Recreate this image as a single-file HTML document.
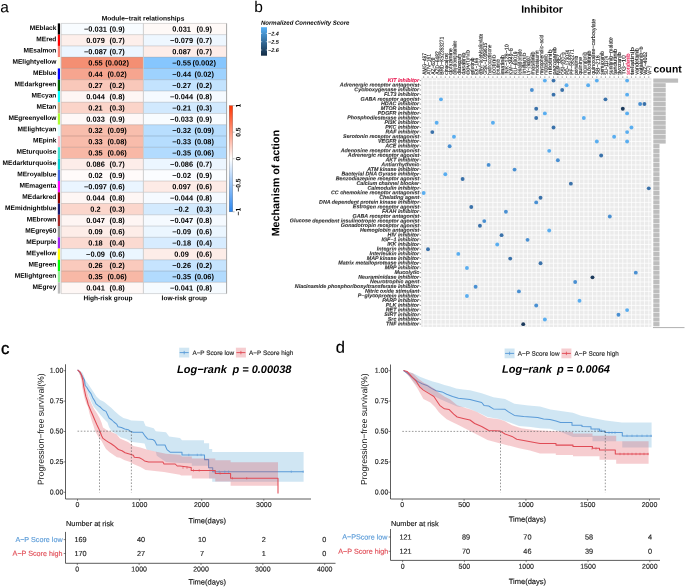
<!DOCTYPE html>
<html><head><meta charset="utf-8"><title>Figure</title>
<style>
html,body{margin:0;padding:0;background:#fff;}
body{width:685px;height:587px;overflow:hidden;}
svg{display:block;font-family:"Liberation Sans", sans-serif;will-change:transform;text-rendering:geometricPrecision;filter:blur(0.3px);}
</style></head>
<body>
<svg width="685" height="587" viewBox="0 0 685 587">
<rect width="685" height="587" fill="#fff"/>
<text transform="translate(0.30 12.20) rotate(0.05)" font-size="15.5" text-anchor="start" font-weight="normal" font-style="normal" fill="#000" >a</text>
<text transform="translate(143.00 20.60) rotate(0.05)" font-size="6.64" text-anchor="middle" font-weight="bold" font-style="normal" fill="#000" >Module−trait relationships</text>
<rect x="61.0" y="23.40" width="82.40" height="11.26" fill="#f8fcff"/>
<rect x="143.4" y="23.40" width="83.20" height="11.26" fill="#fef9f7"/>
<rect x="57.8" y="23.40" width="2.2" height="11.26" fill="#000000"/>
<text transform="translate(56.40 30.03) rotate(0.05)" font-size="6.6" text-anchor="end" font-weight="bold" font-style="normal" fill="#000" >MEblack</text>
<text transform="translate(95.50 31.63) rotate(0.05)" font-size="7.45" text-anchor="middle" font-weight="bold" font-style="normal" fill="#000" >−0.031</text>
<text transform="translate(117.10 31.63) rotate(0.05)" font-size="7.45" text-anchor="middle" font-weight="bold" font-style="normal" fill="#000" >(0.9)</text>
<text transform="translate(181.60 31.63) rotate(0.05)" font-size="7.45" text-anchor="middle" font-weight="bold" font-style="normal" fill="#000" >0.031</text>
<text transform="translate(204.20 31.63) rotate(0.05)" font-size="7.45" text-anchor="middle" font-weight="bold" font-style="normal" fill="#000" >(0.9)</text>
<rect x="61.0" y="34.66" width="82.40" height="11.26" fill="#fdefeb"/>
<rect x="143.4" y="34.66" width="83.20" height="11.26" fill="#eef7ff"/>
<rect x="57.8" y="34.66" width="2.2" height="11.26" fill="#FF0000"/>
<text transform="translate(56.40 41.29) rotate(0.05)" font-size="6.6" text-anchor="end" font-weight="bold" font-style="normal" fill="#000" >MEred</text>
<text transform="translate(95.50 42.89) rotate(0.05)" font-size="7.45" text-anchor="middle" font-weight="bold" font-style="normal" fill="#000" >0.079</text>
<text transform="translate(117.10 42.89) rotate(0.05)" font-size="7.45" text-anchor="middle" font-weight="bold" font-style="normal" fill="#000" >(0.7)</text>
<text transform="translate(181.60 42.89) rotate(0.05)" font-size="7.45" text-anchor="middle" font-weight="bold" font-style="normal" fill="#000" >−0.079</text>
<text transform="translate(204.20 42.89) rotate(0.05)" font-size="7.45" text-anchor="middle" font-weight="bold" font-style="normal" fill="#000" >(0.7)</text>
<rect x="61.0" y="45.92" width="82.40" height="11.26" fill="#ecf6ff"/>
<rect x="143.4" y="45.92" width="83.20" height="11.26" fill="#fdede9"/>
<rect x="57.8" y="45.92" width="2.2" height="11.26" fill="#FA8072"/>
<text transform="translate(56.40 52.55) rotate(0.05)" font-size="6.6" text-anchor="end" font-weight="bold" font-style="normal" fill="#000" >MEsalmon</text>
<text transform="translate(95.50 54.15) rotate(0.05)" font-size="7.45" text-anchor="middle" font-weight="bold" font-style="normal" fill="#000" >−0.087</text>
<text transform="translate(117.10 54.15) rotate(0.05)" font-size="7.45" text-anchor="middle" font-weight="bold" font-style="normal" fill="#000" >(0.7)</text>
<text transform="translate(181.60 54.15) rotate(0.05)" font-size="7.45" text-anchor="middle" font-weight="bold" font-style="normal" fill="#000" >0.087</text>
<text transform="translate(204.20 54.15) rotate(0.05)" font-size="7.45" text-anchor="middle" font-weight="bold" font-style="normal" fill="#000" >(0.7)</text>
<rect x="61.0" y="57.18" width="82.40" height="11.26" fill="#f48f73"/>
<rect x="143.4" y="57.18" width="83.20" height="11.26" fill="#86c6fe"/>
<rect x="57.8" y="57.18" width="2.2" height="11.26" fill="#FFFFE0"/>
<text transform="translate(56.40 63.80) rotate(0.05)" font-size="6.6" text-anchor="end" font-weight="bold" font-style="normal" fill="#000" >MElightyellow</text>
<text transform="translate(95.50 65.40) rotate(0.05)" font-size="7.45" text-anchor="middle" font-weight="bold" font-style="normal" fill="#000" >0.55</text>
<text transform="translate(117.10 65.40) rotate(0.05)" font-size="7.45" text-anchor="middle" font-weight="bold" font-style="normal" fill="#000" >(0.002)</text>
<text transform="translate(181.60 65.40) rotate(0.05)" font-size="7.45" text-anchor="middle" font-weight="bold" font-style="normal" fill="#000" >−0.55</text>
<text transform="translate(204.20 65.40) rotate(0.05)" font-size="7.45" text-anchor="middle" font-weight="bold" font-style="normal" fill="#000" >(0.002)</text>
<rect x="61.0" y="68.43" width="82.40" height="11.26" fill="#f6a58f"/>
<rect x="143.4" y="68.43" width="83.20" height="11.26" fill="#9ed2fe"/>
<rect x="57.8" y="68.43" width="2.2" height="11.26" fill="#0000FF"/>
<text transform="translate(56.40 75.06) rotate(0.05)" font-size="6.6" text-anchor="end" font-weight="bold" font-style="normal" fill="#000" >MEblue</text>
<text transform="translate(95.50 76.66) rotate(0.05)" font-size="7.45" text-anchor="middle" font-weight="bold" font-style="normal" fill="#000" >0.44</text>
<text transform="translate(117.10 76.66) rotate(0.05)" font-size="7.45" text-anchor="middle" font-weight="bold" font-style="normal" fill="#000" >(0.02)</text>
<text transform="translate(181.60 76.66) rotate(0.05)" font-size="7.45" text-anchor="middle" font-weight="bold" font-style="normal" fill="#000" >−0.44</text>
<text transform="translate(204.20 76.66) rotate(0.05)" font-size="7.45" text-anchor="middle" font-weight="bold" font-style="normal" fill="#000" >(0.02)</text>
<rect x="61.0" y="79.69" width="82.40" height="11.26" fill="#f9c8ba"/>
<rect x="143.4" y="79.69" width="83.20" height="11.26" fill="#c3e3fe"/>
<rect x="57.8" y="79.69" width="2.2" height="11.26" fill="#006400"/>
<text transform="translate(56.40 86.32) rotate(0.05)" font-size="6.6" text-anchor="end" font-weight="bold" font-style="normal" fill="#000" >MEdarkgreen</text>
<text transform="translate(95.50 87.92) rotate(0.05)" font-size="7.45" text-anchor="middle" font-weight="bold" font-style="normal" fill="#000" >0.27</text>
<text transform="translate(117.10 87.92) rotate(0.05)" font-size="7.45" text-anchor="middle" font-weight="bold" font-style="normal" fill="#000" >(0.2)</text>
<text transform="translate(181.60 87.92) rotate(0.05)" font-size="7.45" text-anchor="middle" font-weight="bold" font-style="normal" fill="#000" >−0.27</text>
<text transform="translate(204.20 87.92) rotate(0.05)" font-size="7.45" text-anchor="middle" font-weight="bold" font-style="normal" fill="#000" >(0.2)</text>
<rect x="61.0" y="90.95" width="82.40" height="11.26" fill="#fef6f4"/>
<rect x="143.4" y="90.95" width="83.20" height="11.26" fill="#f5faff"/>
<rect x="57.8" y="90.95" width="2.2" height="11.26" fill="#00FFFF"/>
<text transform="translate(56.40 97.58) rotate(0.05)" font-size="6.6" text-anchor="end" font-weight="bold" font-style="normal" fill="#000" >MEcyan</text>
<text transform="translate(95.50 99.18) rotate(0.05)" font-size="7.45" text-anchor="middle" font-weight="bold" font-style="normal" fill="#000" >0.044</text>
<text transform="translate(117.10 99.18) rotate(0.05)" font-size="7.45" text-anchor="middle" font-weight="bold" font-style="normal" fill="#000" >(0.8)</text>
<text transform="translate(181.60 99.18) rotate(0.05)" font-size="7.45" text-anchor="middle" font-weight="bold" font-style="normal" fill="#000" >−0.044</text>
<text transform="translate(204.20 99.18) rotate(0.05)" font-size="7.45" text-anchor="middle" font-weight="bold" font-style="normal" fill="#000" >(0.8)</text>
<rect x="61.0" y="102.21" width="82.40" height="11.26" fill="#fbd4c9"/>
<rect x="143.4" y="102.21" width="83.20" height="11.26" fill="#d1e9fe"/>
<rect x="57.8" y="102.21" width="2.2" height="11.26" fill="#D2B48C"/>
<text transform="translate(56.40 108.84) rotate(0.05)" font-size="6.6" text-anchor="end" font-weight="bold" font-style="normal" fill="#000" >MEtan</text>
<text transform="translate(95.50 110.44) rotate(0.05)" font-size="7.45" text-anchor="middle" font-weight="bold" font-style="normal" fill="#000" >0.21</text>
<text transform="translate(117.10 110.44) rotate(0.05)" font-size="7.45" text-anchor="middle" font-weight="bold" font-style="normal" fill="#000" >(0.3)</text>
<text transform="translate(181.60 110.44) rotate(0.05)" font-size="7.45" text-anchor="middle" font-weight="bold" font-style="normal" fill="#000" >−0.21</text>
<text transform="translate(204.20 110.44) rotate(0.05)" font-size="7.45" text-anchor="middle" font-weight="bold" font-style="normal" fill="#000" >(0.3)</text>
<rect x="61.0" y="113.47" width="82.40" height="11.26" fill="#fef8f7"/>
<rect x="143.4" y="113.47" width="83.20" height="11.26" fill="#f8fcff"/>
<rect x="57.8" y="113.47" width="2.2" height="11.26" fill="#ADFF2F"/>
<text transform="translate(56.40 120.10) rotate(0.05)" font-size="6.6" text-anchor="end" font-weight="bold" font-style="normal" fill="#000" >MEgreenyellow</text>
<text transform="translate(95.50 121.70) rotate(0.05)" font-size="7.45" text-anchor="middle" font-weight="bold" font-style="normal" fill="#000" >0.033</text>
<text transform="translate(117.10 121.70) rotate(0.05)" font-size="7.45" text-anchor="middle" font-weight="bold" font-style="normal" fill="#000" >(0.9)</text>
<text transform="translate(181.60 121.70) rotate(0.05)" font-size="7.45" text-anchor="middle" font-weight="bold" font-style="normal" fill="#000" >−0.033</text>
<text transform="translate(204.20 121.70) rotate(0.05)" font-size="7.45" text-anchor="middle" font-weight="bold" font-style="normal" fill="#000" >(0.9)</text>
<rect x="61.0" y="124.73" width="82.40" height="11.26" fill="#f8bead"/>
<rect x="143.4" y="124.73" width="83.20" height="11.26" fill="#b8defe"/>
<rect x="57.8" y="124.73" width="2.2" height="11.26" fill="#E0FFFF"/>
<text transform="translate(56.40 131.35) rotate(0.05)" font-size="6.6" text-anchor="end" font-weight="bold" font-style="normal" fill="#000" >MElightcyan</text>
<text transform="translate(95.50 132.95) rotate(0.05)" font-size="7.45" text-anchor="middle" font-weight="bold" font-style="normal" fill="#000" >0.32</text>
<text transform="translate(117.10 132.95) rotate(0.05)" font-size="7.45" text-anchor="middle" font-weight="bold" font-style="normal" fill="#000" >(0.09)</text>
<text transform="translate(181.60 132.95) rotate(0.05)" font-size="7.45" text-anchor="middle" font-weight="bold" font-style="normal" fill="#000" >−0.32</text>
<text transform="translate(204.20 132.95) rotate(0.05)" font-size="7.45" text-anchor="middle" font-weight="bold" font-style="normal" fill="#000" >(0.09)</text>
<rect x="61.0" y="135.98" width="82.40" height="11.26" fill="#f8bcab"/>
<rect x="143.4" y="135.98" width="83.20" height="11.26" fill="#b6ddfe"/>
<rect x="57.8" y="135.98" width="2.2" height="11.26" fill="#FFC0CB"/>
<text transform="translate(56.40 142.61) rotate(0.05)" font-size="6.6" text-anchor="end" font-weight="bold" font-style="normal" fill="#000" >MEpink</text>
<text transform="translate(95.50 144.21) rotate(0.05)" font-size="7.45" text-anchor="middle" font-weight="bold" font-style="normal" fill="#000" >0.33</text>
<text transform="translate(117.10 144.21) rotate(0.05)" font-size="7.45" text-anchor="middle" font-weight="bold" font-style="normal" fill="#000" >(0.08)</text>
<text transform="translate(181.60 144.21) rotate(0.05)" font-size="7.45" text-anchor="middle" font-weight="bold" font-style="normal" fill="#000" >−0.33</text>
<text transform="translate(204.20 144.21) rotate(0.05)" font-size="7.45" text-anchor="middle" font-weight="bold" font-style="normal" fill="#000" >(0.08)</text>
<rect x="61.0" y="147.24" width="82.40" height="11.26" fill="#f8b8a6"/>
<rect x="143.4" y="147.24" width="83.20" height="11.26" fill="#b2dbfe"/>
<rect x="57.8" y="147.24" width="2.2" height="11.26" fill="#40E0D0"/>
<text transform="translate(56.40 153.87) rotate(0.05)" font-size="6.6" text-anchor="end" font-weight="bold" font-style="normal" fill="#000" >MEturquoise</text>
<text transform="translate(95.50 155.47) rotate(0.05)" font-size="7.45" text-anchor="middle" font-weight="bold" font-style="normal" fill="#000" >0.35</text>
<text transform="translate(117.10 155.47) rotate(0.05)" font-size="7.45" text-anchor="middle" font-weight="bold" font-style="normal" fill="#000" >(0.06)</text>
<text transform="translate(181.60 155.47) rotate(0.05)" font-size="7.45" text-anchor="middle" font-weight="bold" font-style="normal" fill="#000" >−0.35</text>
<text transform="translate(204.20 155.47) rotate(0.05)" font-size="7.45" text-anchor="middle" font-weight="bold" font-style="normal" fill="#000" >(0.06)</text>
<rect x="61.0" y="158.50" width="82.40" height="11.26" fill="#fdede9"/>
<rect x="143.4" y="158.50" width="83.20" height="11.26" fill="#ecf6ff"/>
<rect x="57.8" y="158.50" width="2.2" height="11.26" fill="#00CED1"/>
<text transform="translate(56.40 165.13) rotate(0.05)" font-size="6.6" text-anchor="end" font-weight="bold" font-style="normal" fill="#000" >MEdarkturquoise</text>
<text transform="translate(95.50 166.73) rotate(0.05)" font-size="7.45" text-anchor="middle" font-weight="bold" font-style="normal" fill="#000" >0.086</text>
<text transform="translate(117.10 166.73) rotate(0.05)" font-size="7.45" text-anchor="middle" font-weight="bold" font-style="normal" fill="#000" >(0.7)</text>
<text transform="translate(181.60 166.73) rotate(0.05)" font-size="7.45" text-anchor="middle" font-weight="bold" font-style="normal" fill="#000" >−0.086</text>
<text transform="translate(204.20 166.73) rotate(0.05)" font-size="7.45" text-anchor="middle" font-weight="bold" font-style="normal" fill="#000" >(0.7)</text>
<rect x="61.0" y="169.76" width="82.40" height="11.26" fill="#fffbfa"/>
<rect x="143.4" y="169.76" width="83.20" height="11.26" fill="#fbfdff"/>
<rect x="57.8" y="169.76" width="2.2" height="11.26" fill="#4169E1"/>
<text transform="translate(56.40 176.39) rotate(0.05)" font-size="6.6" text-anchor="end" font-weight="bold" font-style="normal" fill="#000" >MEroyalblue</text>
<text transform="translate(95.50 177.99) rotate(0.05)" font-size="7.45" text-anchor="middle" font-weight="bold" font-style="normal" fill="#000" >0.02</text>
<text transform="translate(117.10 177.99) rotate(0.05)" font-size="7.45" text-anchor="middle" font-weight="bold" font-style="normal" fill="#000" >(0.9)</text>
<text transform="translate(181.60 177.99) rotate(0.05)" font-size="7.45" text-anchor="middle" font-weight="bold" font-style="normal" fill="#000" >−0.02</text>
<text transform="translate(204.20 177.99) rotate(0.05)" font-size="7.45" text-anchor="middle" font-weight="bold" font-style="normal" fill="#000" >(0.9)</text>
<rect x="61.0" y="181.02" width="82.40" height="11.26" fill="#eaf5ff"/>
<rect x="143.4" y="181.02" width="83.20" height="11.26" fill="#fdebe6"/>
<rect x="57.8" y="181.02" width="2.2" height="11.26" fill="#FF00FF"/>
<text transform="translate(56.40 187.65) rotate(0.05)" font-size="6.6" text-anchor="end" font-weight="bold" font-style="normal" fill="#000" >MEmagenta</text>
<text transform="translate(95.50 189.25) rotate(0.05)" font-size="7.45" text-anchor="middle" font-weight="bold" font-style="normal" fill="#000" >−0.097</text>
<text transform="translate(117.10 189.25) rotate(0.05)" font-size="7.45" text-anchor="middle" font-weight="bold" font-style="normal" fill="#000" >(0.6)</text>
<text transform="translate(181.60 189.25) rotate(0.05)" font-size="7.45" text-anchor="middle" font-weight="bold" font-style="normal" fill="#000" >0.097</text>
<text transform="translate(204.20 189.25) rotate(0.05)" font-size="7.45" text-anchor="middle" font-weight="bold" font-style="normal" fill="#000" >(0.6)</text>
<rect x="61.0" y="192.28" width="82.40" height="11.26" fill="#fef6f4"/>
<rect x="143.4" y="192.28" width="83.20" height="11.26" fill="#f5faff"/>
<rect x="57.8" y="192.28" width="2.2" height="11.26" fill="#8B0000"/>
<text transform="translate(56.40 198.90) rotate(0.05)" font-size="6.6" text-anchor="end" font-weight="bold" font-style="normal" fill="#000" >MEdarkred</text>
<text transform="translate(95.50 200.50) rotate(0.05)" font-size="7.45" text-anchor="middle" font-weight="bold" font-style="normal" fill="#000" >0.044</text>
<text transform="translate(117.10 200.50) rotate(0.05)" font-size="7.45" text-anchor="middle" font-weight="bold" font-style="normal" fill="#000" >(0.8)</text>
<text transform="translate(181.60 200.50) rotate(0.05)" font-size="7.45" text-anchor="middle" font-weight="bold" font-style="normal" fill="#000" >−0.044</text>
<text transform="translate(204.20 200.50) rotate(0.05)" font-size="7.45" text-anchor="middle" font-weight="bold" font-style="normal" fill="#000" >(0.8)</text>
<rect x="61.0" y="203.53" width="82.40" height="11.26" fill="#fbd6cc"/>
<rect x="143.4" y="203.53" width="83.20" height="11.26" fill="#d3eafe"/>
<rect x="57.8" y="203.53" width="2.2" height="11.26" fill="#191970"/>
<text transform="translate(56.40 210.16) rotate(0.05)" font-size="6.6" text-anchor="end" font-weight="bold" font-style="normal" fill="#000" >MEmidnightblue</text>
<text transform="translate(95.50 211.76) rotate(0.05)" font-size="7.45" text-anchor="middle" font-weight="bold" font-style="normal" fill="#000" >0.2</text>
<text transform="translate(117.10 211.76) rotate(0.05)" font-size="7.45" text-anchor="middle" font-weight="bold" font-style="normal" fill="#000" >(0.3)</text>
<text transform="translate(181.60 211.76) rotate(0.05)" font-size="7.45" text-anchor="middle" font-weight="bold" font-style="normal" fill="#000" >−0.2</text>
<text transform="translate(204.20 211.76) rotate(0.05)" font-size="7.45" text-anchor="middle" font-weight="bold" font-style="normal" fill="#000" >(0.3)</text>
<rect x="61.0" y="214.79" width="82.40" height="11.26" fill="#fef5f3"/>
<rect x="143.4" y="214.79" width="83.20" height="11.26" fill="#f5faff"/>
<rect x="57.8" y="214.79" width="2.2" height="11.26" fill="#A52A2A"/>
<text transform="translate(56.40 221.42) rotate(0.05)" font-size="6.6" text-anchor="end" font-weight="bold" font-style="normal" fill="#000" >MEbrown</text>
<text transform="translate(95.50 223.02) rotate(0.05)" font-size="7.45" text-anchor="middle" font-weight="bold" font-style="normal" fill="#000" >0.047</text>
<text transform="translate(117.10 223.02) rotate(0.05)" font-size="7.45" text-anchor="middle" font-weight="bold" font-style="normal" fill="#000" >(0.8)</text>
<text transform="translate(181.60 223.02) rotate(0.05)" font-size="7.45" text-anchor="middle" font-weight="bold" font-style="normal" fill="#000" >−0.047</text>
<text transform="translate(204.20 223.02) rotate(0.05)" font-size="7.45" text-anchor="middle" font-weight="bold" font-style="normal" fill="#000" >(0.8)</text>
<rect x="61.0" y="226.05" width="82.40" height="11.26" fill="#fdede8"/>
<rect x="143.4" y="226.05" width="83.20" height="11.26" fill="#ebf6ff"/>
<rect x="57.8" y="226.05" width="2.2" height="11.26" fill="#999999"/>
<text transform="translate(56.40 232.68) rotate(0.05)" font-size="6.6" text-anchor="end" font-weight="bold" font-style="normal" fill="#000" >MEgrey60</text>
<text transform="translate(95.50 234.28) rotate(0.05)" font-size="7.45" text-anchor="middle" font-weight="bold" font-style="normal" fill="#000" >0.09</text>
<text transform="translate(117.10 234.28) rotate(0.05)" font-size="7.45" text-anchor="middle" font-weight="bold" font-style="normal" fill="#000" >(0.6)</text>
<text transform="translate(181.60 234.28) rotate(0.05)" font-size="7.45" text-anchor="middle" font-weight="bold" font-style="normal" fill="#000" >−0.09</text>
<text transform="translate(204.20 234.28) rotate(0.05)" font-size="7.45" text-anchor="middle" font-weight="bold" font-style="normal" fill="#000" >(0.6)</text>
<rect x="61.0" y="237.31" width="82.40" height="11.26" fill="#fbdad1"/>
<rect x="143.4" y="237.31" width="83.20" height="11.26" fill="#d7ecff"/>
<rect x="57.8" y="237.31" width="2.2" height="11.26" fill="#A020F0"/>
<text transform="translate(56.40 243.94) rotate(0.05)" font-size="6.6" text-anchor="end" font-weight="bold" font-style="normal" fill="#000" >MEpurple</text>
<text transform="translate(95.50 245.54) rotate(0.05)" font-size="7.45" text-anchor="middle" font-weight="bold" font-style="normal" fill="#000" >0.18</text>
<text transform="translate(117.10 245.54) rotate(0.05)" font-size="7.45" text-anchor="middle" font-weight="bold" font-style="normal" fill="#000" >(0.4)</text>
<text transform="translate(181.60 245.54) rotate(0.05)" font-size="7.45" text-anchor="middle" font-weight="bold" font-style="normal" fill="#000" >−0.18</text>
<text transform="translate(204.20 245.54) rotate(0.05)" font-size="7.45" text-anchor="middle" font-weight="bold" font-style="normal" fill="#000" >(0.4)</text>
<rect x="61.0" y="248.57" width="82.40" height="11.26" fill="#ebf6ff"/>
<rect x="143.4" y="248.57" width="83.20" height="11.26" fill="#fdede8"/>
<rect x="57.8" y="248.57" width="2.2" height="11.26" fill="#FFFF00"/>
<text transform="translate(56.40 255.20) rotate(0.05)" font-size="6.6" text-anchor="end" font-weight="bold" font-style="normal" fill="#000" >MEyellow</text>
<text transform="translate(95.50 256.80) rotate(0.05)" font-size="7.45" text-anchor="middle" font-weight="bold" font-style="normal" fill="#000" >−0.09</text>
<text transform="translate(117.10 256.80) rotate(0.05)" font-size="7.45" text-anchor="middle" font-weight="bold" font-style="normal" fill="#000" >(0.6)</text>
<text transform="translate(181.60 256.80) rotate(0.05)" font-size="7.45" text-anchor="middle" font-weight="bold" font-style="normal" fill="#000" >0.09</text>
<text transform="translate(204.20 256.80) rotate(0.05)" font-size="7.45" text-anchor="middle" font-weight="bold" font-style="normal" fill="#000" >(0.6)</text>
<rect x="61.0" y="259.83" width="82.40" height="11.26" fill="#facabd"/>
<rect x="143.4" y="259.83" width="83.20" height="11.26" fill="#c6e4fe"/>
<rect x="57.8" y="259.83" width="2.2" height="11.26" fill="#00FF00"/>
<text transform="translate(56.40 266.45) rotate(0.05)" font-size="6.6" text-anchor="end" font-weight="bold" font-style="normal" fill="#000" >MEgreen</text>
<text transform="translate(95.50 268.05) rotate(0.05)" font-size="7.45" text-anchor="middle" font-weight="bold" font-style="normal" fill="#000" >0.26</text>
<text transform="translate(117.10 268.05) rotate(0.05)" font-size="7.45" text-anchor="middle" font-weight="bold" font-style="normal" fill="#000" >(0.2)</text>
<text transform="translate(181.60 268.05) rotate(0.05)" font-size="7.45" text-anchor="middle" font-weight="bold" font-style="normal" fill="#000" >−0.26</text>
<text transform="translate(204.20 268.05) rotate(0.05)" font-size="7.45" text-anchor="middle" font-weight="bold" font-style="normal" fill="#000" >(0.2)</text>
<rect x="61.0" y="271.08" width="82.40" height="11.26" fill="#f8b8a6"/>
<rect x="143.4" y="271.08" width="83.20" height="11.26" fill="#b2dbfe"/>
<rect x="57.8" y="271.08" width="2.2" height="11.26" fill="#90EE90"/>
<text transform="translate(56.40 277.71) rotate(0.05)" font-size="6.6" text-anchor="end" font-weight="bold" font-style="normal" fill="#000" >MElightgreen</text>
<text transform="translate(95.50 279.31) rotate(0.05)" font-size="7.45" text-anchor="middle" font-weight="bold" font-style="normal" fill="#000" >0.35</text>
<text transform="translate(117.10 279.31) rotate(0.05)" font-size="7.45" text-anchor="middle" font-weight="bold" font-style="normal" fill="#000" >(0.06)</text>
<text transform="translate(181.60 279.31) rotate(0.05)" font-size="7.45" text-anchor="middle" font-weight="bold" font-style="normal" fill="#000" >−0.35</text>
<text transform="translate(204.20 279.31) rotate(0.05)" font-size="7.45" text-anchor="middle" font-weight="bold" font-style="normal" fill="#000" >(0.06)</text>
<rect x="61.0" y="282.34" width="82.40" height="11.26" fill="#fef7f5"/>
<rect x="143.4" y="282.34" width="83.20" height="11.26" fill="#f6fbff"/>
<rect x="57.8" y="282.34" width="2.2" height="11.26" fill="#BEBEBE"/>
<text transform="translate(56.40 288.97) rotate(0.05)" font-size="6.6" text-anchor="end" font-weight="bold" font-style="normal" fill="#000" >MEgrey</text>
<text transform="translate(95.50 290.57) rotate(0.05)" font-size="7.45" text-anchor="middle" font-weight="bold" font-style="normal" fill="#000" >0.041</text>
<text transform="translate(117.10 290.57) rotate(0.05)" font-size="7.45" text-anchor="middle" font-weight="bold" font-style="normal" fill="#000" >(0.8)</text>
<text transform="translate(181.60 290.57) rotate(0.05)" font-size="7.45" text-anchor="middle" font-weight="bold" font-style="normal" fill="#000" >−0.041</text>
<text transform="translate(204.20 290.57) rotate(0.05)" font-size="7.45" text-anchor="middle" font-weight="bold" font-style="normal" fill="#000" >(0.8)</text>
<line x1="61.0" y1="23.40" x2="226.6" y2="23.40" stroke="#000" stroke-opacity="0.16" stroke-width="0.9"/>
<line x1="61.0" y1="34.66" x2="226.6" y2="34.66" stroke="#000" stroke-opacity="0.16" stroke-width="0.9"/>
<line x1="61.0" y1="45.92" x2="226.6" y2="45.92" stroke="#000" stroke-opacity="0.16" stroke-width="0.9"/>
<line x1="61.0" y1="57.18" x2="226.6" y2="57.18" stroke="#000" stroke-opacity="0.16" stroke-width="0.9"/>
<line x1="61.0" y1="68.43" x2="226.6" y2="68.43" stroke="#000" stroke-opacity="0.16" stroke-width="0.9"/>
<line x1="61.0" y1="79.69" x2="226.6" y2="79.69" stroke="#000" stroke-opacity="0.16" stroke-width="0.9"/>
<line x1="61.0" y1="90.95" x2="226.6" y2="90.95" stroke="#000" stroke-opacity="0.16" stroke-width="0.9"/>
<line x1="61.0" y1="102.21" x2="226.6" y2="102.21" stroke="#000" stroke-opacity="0.16" stroke-width="0.9"/>
<line x1="61.0" y1="113.47" x2="226.6" y2="113.47" stroke="#000" stroke-opacity="0.16" stroke-width="0.9"/>
<line x1="61.0" y1="124.73" x2="226.6" y2="124.73" stroke="#000" stroke-opacity="0.16" stroke-width="0.9"/>
<line x1="61.0" y1="135.98" x2="226.6" y2="135.98" stroke="#000" stroke-opacity="0.16" stroke-width="0.9"/>
<line x1="61.0" y1="147.24" x2="226.6" y2="147.24" stroke="#000" stroke-opacity="0.16" stroke-width="0.9"/>
<line x1="61.0" y1="158.50" x2="226.6" y2="158.50" stroke="#000" stroke-opacity="0.16" stroke-width="0.9"/>
<line x1="61.0" y1="169.76" x2="226.6" y2="169.76" stroke="#000" stroke-opacity="0.16" stroke-width="0.9"/>
<line x1="61.0" y1="181.02" x2="226.6" y2="181.02" stroke="#000" stroke-opacity="0.16" stroke-width="0.9"/>
<line x1="61.0" y1="192.28" x2="226.6" y2="192.28" stroke="#000" stroke-opacity="0.16" stroke-width="0.9"/>
<line x1="61.0" y1="203.53" x2="226.6" y2="203.53" stroke="#000" stroke-opacity="0.16" stroke-width="0.9"/>
<line x1="61.0" y1="214.79" x2="226.6" y2="214.79" stroke="#000" stroke-opacity="0.16" stroke-width="0.9"/>
<line x1="61.0" y1="226.05" x2="226.6" y2="226.05" stroke="#000" stroke-opacity="0.16" stroke-width="0.9"/>
<line x1="61.0" y1="237.31" x2="226.6" y2="237.31" stroke="#000" stroke-opacity="0.16" stroke-width="0.9"/>
<line x1="61.0" y1="248.57" x2="226.6" y2="248.57" stroke="#000" stroke-opacity="0.16" stroke-width="0.9"/>
<line x1="61.0" y1="259.83" x2="226.6" y2="259.83" stroke="#000" stroke-opacity="0.16" stroke-width="0.9"/>
<line x1="61.0" y1="271.08" x2="226.6" y2="271.08" stroke="#000" stroke-opacity="0.16" stroke-width="0.9"/>
<line x1="61.0" y1="282.34" x2="226.6" y2="282.34" stroke="#000" stroke-opacity="0.16" stroke-width="0.9"/>
<line x1="61.0" y1="293.60" x2="226.6" y2="293.60" stroke="#000" stroke-opacity="0.16" stroke-width="0.9"/>
<line x1="61.0" y1="23.4" x2="61.0" y2="293.6" stroke="#c4c4c4" stroke-width="0.9"/>
<line x1="143.4" y1="23.4" x2="143.4" y2="293.6" stroke="#c8c8c8" stroke-width="0.9"/>
<line x1="226.6" y1="23.4" x2="226.6" y2="293.6" stroke="#9a9a9a" stroke-width="0.9"/>
<text transform="translate(108.00 300.20) rotate(0.05)" font-size="6.6" text-anchor="middle" font-weight="bold" font-style="normal" fill="#000" >High-risk group</text>
<text transform="translate(184.30 300.20) rotate(0.05)" font-size="6.6" text-anchor="middle" font-weight="bold" font-style="normal" fill="#000" >low-risk group</text>
<defs><linearGradient id="gbwr" x1="0" y1="1" x2="0" y2="0"><stop offset="0" stop-color="#2a86f0"/><stop offset="0.5" stop-color="#ffffff"/><stop offset="1" stop-color="#ff3300"/></linearGradient></defs>
<rect x="229.2" y="105.6" width="3.5" height="106.2" fill="url(#gbwr)" stroke="#000" stroke-opacity="0.35" stroke-width="0.5"/>
<line x1="232.7" y1="105.60" x2="234.6" y2="105.60" stroke="#777" stroke-width="0.5"/>
<text transform="translate(240.6 105.60) rotate(-89.95)" font-size="6.7" text-anchor="middle" font-weight="bold" fill="#000">1</text>
<line x1="232.7" y1="132.15" x2="234.6" y2="132.15" stroke="#777" stroke-width="0.5"/>
<text transform="translate(240.6 132.10) rotate(-89.95)" font-size="6.7" text-anchor="middle" font-weight="bold" fill="#000">0.5</text>
<line x1="232.7" y1="158.70" x2="234.6" y2="158.70" stroke="#777" stroke-width="0.5"/>
<text transform="translate(240.6 158.60) rotate(-89.95)" font-size="6.7" text-anchor="middle" font-weight="bold" fill="#000">0</text>
<line x1="232.7" y1="185.25" x2="234.6" y2="185.25" stroke="#777" stroke-width="0.5"/>
<text transform="translate(240.6 185.10) rotate(-89.95)" font-size="6.7" text-anchor="middle" font-weight="bold" fill="#000">−0.5</text>
<line x1="232.7" y1="211.80" x2="234.6" y2="211.80" stroke="#777" stroke-width="0.5"/>
<text transform="translate(240.6 211.60) rotate(-89.95)" font-size="6.7" text-anchor="middle" font-weight="bold" fill="#000">−1</text>
<text transform="translate(254.20 12.00) rotate(0.05)" font-size="15.5" text-anchor="start" font-weight="normal" font-style="normal" fill="#000" >b</text>
<text transform="translate(542.00 12.70) rotate(0.05)" font-size="10.45" text-anchor="middle" font-weight="bold" font-style="normal" fill="#000" >Inhibitor</text>
<text transform="translate(261.00 24.80) rotate(0.05)" font-size="6.0" text-anchor="start" font-weight="bold" font-style="italic" fill="#000" >Normalized Connectivity Score</text>
<defs><linearGradient id="gncs" x1="0" y1="0" x2="0" y2="1"><stop offset="0" stop-color="#56B1F7"/><stop offset="1" stop-color="#132B43"/></linearGradient></defs>
<rect x="261" y="27.2" width="6" height="28.5" fill="url(#gncs)"/>
<line x1="261" y1="33.4" x2="262.2" y2="33.4" stroke="#fff" stroke-width="0.5"/>
<line x1="265.8" y1="33.4" x2="267" y2="33.4" stroke="#fff" stroke-width="0.5"/>
<text transform="translate(268.00 35.40) rotate(0.05)" font-size="5.5" text-anchor="start" font-weight="bold" font-style="italic" fill="#000" >−2.4</text>
<line x1="261" y1="41.7" x2="262.2" y2="41.7" stroke="#fff" stroke-width="0.5"/>
<line x1="265.8" y1="41.7" x2="267" y2="41.7" stroke="#fff" stroke-width="0.5"/>
<text transform="translate(268.00 43.70) rotate(0.05)" font-size="5.5" text-anchor="start" font-weight="bold" font-style="italic" fill="#000" >−2.5</text>
<line x1="261" y1="50.0" x2="262.2" y2="50.0" stroke="#fff" stroke-width="0.5"/>
<line x1="265.8" y1="50.0" x2="267" y2="50.0" stroke="#fff" stroke-width="0.5"/>
<text transform="translate(268.00 52.00) rotate(0.05)" font-size="5.5" text-anchor="start" font-weight="bold" font-style="italic" fill="#000" >−2.6</text>
<rect x="421.1" y="77.8" width="230.30" height="249.20" fill="#ebebeb"/>
<path d="M423.66 77.8V327.0M427.99 77.8V327.0M432.32 77.8V327.0M436.65 77.8V327.0M440.98 77.8V327.0M445.31 77.8V327.0M449.63 77.8V327.0M453.96 77.8V327.0M458.29 77.8V327.0M462.62 77.8V327.0M466.95 77.8V327.0M471.28 77.8V327.0M475.61 77.8V327.0M479.94 77.8V327.0M484.27 77.8V327.0M488.60 77.8V327.0M492.92 77.8V327.0M497.25 77.8V327.0M501.58 77.8V327.0M505.91 77.8V327.0M510.24 77.8V327.0M514.57 77.8V327.0M518.90 77.8V327.0M523.23 77.8V327.0M527.56 77.8V327.0M531.88 77.8V327.0M536.21 77.8V327.0M540.54 77.8V327.0M544.87 77.8V327.0M549.20 77.8V327.0M553.53 77.8V327.0M557.86 77.8V327.0M562.19 77.8V327.0M566.52 77.8V327.0M570.85 77.8V327.0M575.17 77.8V327.0M579.50 77.8V327.0M583.83 77.8V327.0M588.16 77.8V327.0M592.49 77.8V327.0M596.82 77.8V327.0M601.15 77.8V327.0M605.48 77.8V327.0M609.81 77.8V327.0M614.14 77.8V327.0M618.47 77.8V327.0M622.79 77.8V327.0M627.12 77.8V327.0M631.45 77.8V327.0M635.78 77.8V327.0M640.11 77.8V327.0M644.44 77.8V327.0M648.77 77.8V327.0M421.1 80.60H651.4M421.1 85.28H651.4M421.1 89.97H651.4M421.1 94.65H651.4M421.1 99.34H651.4M421.1 104.02H651.4M421.1 108.70H651.4M421.1 113.39H651.4M421.1 118.07H651.4M421.1 122.76H651.4M421.1 127.44H651.4M421.1 132.12H651.4M421.1 136.81H651.4M421.1 141.49H651.4M421.1 146.18H651.4M421.1 150.86H651.4M421.1 155.54H651.4M421.1 160.23H651.4M421.1 164.91H651.4M421.1 169.60H651.4M421.1 174.28H651.4M421.1 178.96H651.4M421.1 183.65H651.4M421.1 188.33H651.4M421.1 193.02H651.4M421.1 197.70H651.4M421.1 202.38H651.4M421.1 207.07H651.4M421.1 211.75H651.4M421.1 216.44H651.4M421.1 221.12H651.4M421.1 225.80H651.4M421.1 230.49H651.4M421.1 235.17H651.4M421.1 239.86H651.4M421.1 244.54H651.4M421.1 249.22H651.4M421.1 253.91H651.4M421.1 258.59H651.4M421.1 263.28H651.4M421.1 267.96H651.4M421.1 272.64H651.4M421.1 277.33H651.4M421.1 282.01H651.4M421.1 286.70H651.4M421.1 291.38H651.4M421.1 296.06H651.4M421.1 300.75H651.4M421.1 305.43H651.4M421.1 310.12H651.4M421.1 314.80H651.4M421.1 319.48H651.4M421.1 324.17H651.4" stroke="#ffffff" stroke-width="0.75" fill="none"/>
<text transform="translate(419.20 81.95) rotate(0.05)" font-size="5.33" text-anchor="end" font-weight="bold" font-style="italic" fill="#e8174f" stroke="#e8174f" stroke-width="0.1">KIT inhibitor</text>
<text transform="translate(419.20 86.63) rotate(0.05)" font-size="5.33" text-anchor="end" font-weight="bold" font-style="italic" fill="#333333" stroke="#333333" stroke-width="0.1">Adrenergic receptor antagonist</text>
<text transform="translate(419.20 91.32) rotate(0.05)" font-size="5.33" text-anchor="end" font-weight="bold" font-style="italic" fill="#333333" stroke="#333333" stroke-width="0.1">Cyclooxygenase inhibitor</text>
<text transform="translate(419.20 96.00) rotate(0.05)" font-size="5.33" text-anchor="end" font-weight="bold" font-style="italic" fill="#333333" stroke="#333333" stroke-width="0.1">FLT3 inhibitor</text>
<text transform="translate(419.20 100.69) rotate(0.05)" font-size="5.33" text-anchor="end" font-weight="bold" font-style="italic" fill="#333333" stroke="#333333" stroke-width="0.1">GABA receptor agonist</text>
<text transform="translate(419.20 105.37) rotate(0.05)" font-size="5.33" text-anchor="end" font-weight="bold" font-style="italic" fill="#333333" stroke="#333333" stroke-width="0.1">HDAC inhibitor</text>
<text transform="translate(419.20 110.05) rotate(0.05)" font-size="5.33" text-anchor="end" font-weight="bold" font-style="italic" fill="#333333" stroke="#333333" stroke-width="0.1">MTOR inhibitor</text>
<text transform="translate(419.20 114.74) rotate(0.05)" font-size="5.33" text-anchor="end" font-weight="bold" font-style="italic" fill="#333333" stroke="#333333" stroke-width="0.1">PDGFR inhibitor</text>
<text transform="translate(419.20 119.42) rotate(0.05)" font-size="5.33" text-anchor="end" font-weight="bold" font-style="italic" fill="#333333" stroke="#333333" stroke-width="0.1">Phosphodiesterase inhibitor</text>
<text transform="translate(419.20 124.11) rotate(0.05)" font-size="5.33" text-anchor="end" font-weight="bold" font-style="italic" fill="#333333" stroke="#333333" stroke-width="0.1">PI3K inhibitor</text>
<text transform="translate(419.20 128.79) rotate(0.05)" font-size="5.33" text-anchor="end" font-weight="bold" font-style="italic" fill="#333333" stroke="#333333" stroke-width="0.1">PKC inhibitor</text>
<text transform="translate(419.20 133.47) rotate(0.05)" font-size="5.33" text-anchor="end" font-weight="bold" font-style="italic" fill="#333333" stroke="#333333" stroke-width="0.1">RAF inhibitor</text>
<text transform="translate(419.20 138.16) rotate(0.05)" font-size="5.33" text-anchor="end" font-weight="bold" font-style="italic" fill="#333333" stroke="#333333" stroke-width="0.1">Serotonin receptor antagonist</text>
<text transform="translate(419.20 142.84) rotate(0.05)" font-size="5.33" text-anchor="end" font-weight="bold" font-style="italic" fill="#333333" stroke="#333333" stroke-width="0.1">VEGFR inhibitor</text>
<text transform="translate(419.20 147.53) rotate(0.05)" font-size="5.33" text-anchor="end" font-weight="bold" font-style="italic" fill="#333333" stroke="#333333" stroke-width="0.1">ACE inhibitor</text>
<text transform="translate(419.20 152.21) rotate(0.05)" font-size="5.33" text-anchor="end" font-weight="bold" font-style="italic" fill="#333333" stroke="#333333" stroke-width="0.1">Adenosine receptor antagonist</text>
<text transform="translate(419.20 156.89) rotate(0.05)" font-size="5.33" text-anchor="end" font-weight="bold" font-style="italic" fill="#333333" stroke="#333333" stroke-width="0.1">Adrenergic receptor agonist</text>
<text transform="translate(419.20 161.58) rotate(0.05)" font-size="5.33" text-anchor="end" font-weight="bold" font-style="italic" fill="#333333" stroke="#333333" stroke-width="0.1">AKT inhibitor</text>
<text transform="translate(419.20 166.26) rotate(0.05)" font-size="5.33" text-anchor="end" font-weight="bold" font-style="italic" fill="#333333" stroke="#333333" stroke-width="0.1">Antiarrhythmic</text>
<text transform="translate(419.20 170.95) rotate(0.05)" font-size="5.33" text-anchor="end" font-weight="bold" font-style="italic" fill="#333333" stroke="#333333" stroke-width="0.1">ATM kinase inhibitor</text>
<text transform="translate(419.20 175.63) rotate(0.05)" font-size="5.33" text-anchor="end" font-weight="bold" font-style="italic" fill="#333333" stroke="#333333" stroke-width="0.1">Bacterial DNA Gyrase inhibitor</text>
<text transform="translate(419.20 180.31) rotate(0.05)" font-size="5.33" text-anchor="end" font-weight="bold" font-style="italic" fill="#333333" stroke="#333333" stroke-width="0.1">Benzodiazepine receptor agonist</text>
<text transform="translate(419.20 185.00) rotate(0.05)" font-size="5.33" text-anchor="end" font-weight="bold" font-style="italic" fill="#333333" stroke="#333333" stroke-width="0.1">Calcium channel blocker</text>
<text transform="translate(419.20 189.68) rotate(0.05)" font-size="5.33" text-anchor="end" font-weight="bold" font-style="italic" fill="#333333" stroke="#333333" stroke-width="0.1">Calmodulin inhibitor</text>
<text transform="translate(419.20 194.37) rotate(0.05)" font-size="5.33" text-anchor="end" font-weight="bold" font-style="italic" fill="#333333" stroke="#333333" stroke-width="0.1">CC chemokine receptor antagonist</text>
<text transform="translate(419.20 199.05) rotate(0.05)" font-size="5.33" text-anchor="end" font-weight="bold" font-style="italic" fill="#333333" stroke="#333333" stroke-width="0.1">Chelating agent</text>
<text transform="translate(419.20 203.73) rotate(0.05)" font-size="5.33" text-anchor="end" font-weight="bold" font-style="italic" fill="#333333" stroke="#333333" stroke-width="0.1">DNA dependent protein kinase inhibitor</text>
<text transform="translate(419.20 208.42) rotate(0.05)" font-size="5.33" text-anchor="end" font-weight="bold" font-style="italic" fill="#333333" stroke="#333333" stroke-width="0.1">Estrogen receptor agonist</text>
<text transform="translate(419.20 213.10) rotate(0.05)" font-size="5.33" text-anchor="end" font-weight="bold" font-style="italic" fill="#333333" stroke="#333333" stroke-width="0.1">FAAH inhibitor</text>
<text transform="translate(419.20 217.79) rotate(0.05)" font-size="5.33" text-anchor="end" font-weight="bold" font-style="italic" fill="#333333" stroke="#333333" stroke-width="0.1">GABA receptor antagonist</text>
<text transform="translate(419.20 222.47) rotate(0.05)" font-size="5.33" text-anchor="end" font-weight="bold" font-style="italic" fill="#333333" stroke="#333333" stroke-width="0.1">Glucose dependent insulinotropic receptor agonist</text>
<text transform="translate(419.20 227.15) rotate(0.05)" font-size="5.33" text-anchor="end" font-weight="bold" font-style="italic" fill="#333333" stroke="#333333" stroke-width="0.1">Gonadotropin receptor agonist</text>
<text transform="translate(419.20 231.84) rotate(0.05)" font-size="5.33" text-anchor="end" font-weight="bold" font-style="italic" fill="#333333" stroke="#333333" stroke-width="0.1">Hemoglobin antagonist</text>
<text transform="translate(419.20 236.52) rotate(0.05)" font-size="5.33" text-anchor="end" font-weight="bold" font-style="italic" fill="#333333" stroke="#333333" stroke-width="0.1">HIV inhibitor</text>
<text transform="translate(419.20 241.21) rotate(0.05)" font-size="5.33" text-anchor="end" font-weight="bold" font-style="italic" fill="#333333" stroke="#333333" stroke-width="0.1">IGF−1 inhibitor</text>
<text transform="translate(419.20 245.89) rotate(0.05)" font-size="5.33" text-anchor="end" font-weight="bold" font-style="italic" fill="#333333" stroke="#333333" stroke-width="0.1">IKK inhibitor</text>
<text transform="translate(419.20 250.57) rotate(0.05)" font-size="5.33" text-anchor="end" font-weight="bold" font-style="italic" fill="#333333" stroke="#333333" stroke-width="0.1">Integrin inhibitor</text>
<text transform="translate(419.20 255.26) rotate(0.05)" font-size="5.33" text-anchor="end" font-weight="bold" font-style="italic" fill="#333333" stroke="#333333" stroke-width="0.1">Interleukin inhibitor</text>
<text transform="translate(419.20 259.94) rotate(0.05)" font-size="5.33" text-anchor="end" font-weight="bold" font-style="italic" fill="#333333" stroke="#333333" stroke-width="0.1">MAP kinase inhibitor</text>
<text transform="translate(419.20 264.63) rotate(0.05)" font-size="5.33" text-anchor="end" font-weight="bold" font-style="italic" fill="#333333" stroke="#333333" stroke-width="0.1">Matrix metalloprotease inhibitor</text>
<text transform="translate(419.20 269.31) rotate(0.05)" font-size="5.33" text-anchor="end" font-weight="bold" font-style="italic" fill="#333333" stroke="#333333" stroke-width="0.1">MRP inhibitor</text>
<text transform="translate(419.20 273.99) rotate(0.05)" font-size="5.33" text-anchor="end" font-weight="bold" font-style="italic" fill="#333333" stroke="#333333" stroke-width="0.1">Mucolytic</text>
<text transform="translate(419.20 278.68) rotate(0.05)" font-size="5.33" text-anchor="end" font-weight="bold" font-style="italic" fill="#333333" stroke="#333333" stroke-width="0.1">Neuraminidase inhibitor</text>
<text transform="translate(419.20 283.36) rotate(0.05)" font-size="5.33" text-anchor="end" font-weight="bold" font-style="italic" fill="#333333" stroke="#333333" stroke-width="0.1">Neurotrophic agent</text>
<text transform="translate(419.20 288.05) rotate(0.05)" font-size="5.33" text-anchor="end" font-weight="bold" font-style="italic" fill="#333333" stroke="#333333" stroke-width="0.1">Niacinamide phosphoribosyltransferase inhibitor</text>
<text transform="translate(419.20 292.73) rotate(0.05)" font-size="5.33" text-anchor="end" font-weight="bold" font-style="italic" fill="#333333" stroke="#333333" stroke-width="0.1">Nitric oxide stimulant</text>
<text transform="translate(419.20 297.41) rotate(0.05)" font-size="5.33" text-anchor="end" font-weight="bold" font-style="italic" fill="#333333" stroke="#333333" stroke-width="0.1">P−glycoprotein inhibitor</text>
<text transform="translate(419.20 302.10) rotate(0.05)" font-size="5.33" text-anchor="end" font-weight="bold" font-style="italic" fill="#333333" stroke="#333333" stroke-width="0.1">PARP inhibitor</text>
<text transform="translate(419.20 306.78) rotate(0.05)" font-size="5.33" text-anchor="end" font-weight="bold" font-style="italic" fill="#333333" stroke="#333333" stroke-width="0.1">PLK inhibitor</text>
<text transform="translate(419.20 311.47) rotate(0.05)" font-size="5.33" text-anchor="end" font-weight="bold" font-style="italic" fill="#333333" stroke="#333333" stroke-width="0.1">RET inhibitor</text>
<text transform="translate(419.20 316.15) rotate(0.05)" font-size="5.33" text-anchor="end" font-weight="bold" font-style="italic" fill="#333333" stroke="#333333" stroke-width="0.1">SIRT inhibitor</text>
<text transform="translate(419.20 320.83) rotate(0.05)" font-size="5.33" text-anchor="end" font-weight="bold" font-style="italic" fill="#333333" stroke="#333333" stroke-width="0.1">Src inhibitor</text>
<text transform="translate(419.20 325.52) rotate(0.05)" font-size="5.33" text-anchor="end" font-weight="bold" font-style="italic" fill="#333333" stroke="#333333" stroke-width="0.1">TNF inhibitor</text>
<text transform="translate(426.26 74.8) rotate(-89.95)" font-size="5.5" fill="#1a1a1a" stroke="#1a1a1a" stroke-width="0.12" textLength="21.7" lengthAdjust="spacingAndGlyphs">AMG−487</text>
<text transform="translate(430.59 74.8) rotate(-89.95)" font-size="5.5" fill="#1a1a1a" stroke="#1a1a1a" stroke-width="0.12" textLength="20.7" lengthAdjust="spacingAndGlyphs">ATN−161</text>
<text transform="translate(434.92 74.8) rotate(-89.95)" font-size="5.5" fill="#1a1a1a" stroke="#1a1a1a" stroke-width="0.12" textLength="17.3" lengthAdjust="spacingAndGlyphs">AZ−628</text>
<text transform="translate(439.25 74.8) rotate(-89.95)" font-size="5.5" fill="#1a1a1a" stroke="#1a1a1a" stroke-width="0.12" textLength="23.4" lengthAdjust="spacingAndGlyphs">AZD−6482</text>
<text transform="translate(443.58 74.8) rotate(-89.95)" font-size="5.5" fill="#1a1a1a" stroke="#1a1a1a" stroke-width="0.12" textLength="38.0" lengthAdjust="spacingAndGlyphs">BRD−K52353271</text>
<text transform="translate(447.91 74.8) rotate(-89.95)" font-size="5.5" fill="#1a1a1a" stroke="#1a1a1a" stroke-width="0.12" textLength="21.7" lengthAdjust="spacingAndGlyphs">cinacalcet</text>
<text transform="translate(452.23 74.8) rotate(-89.95)" font-size="5.5" fill="#1a1a1a" stroke="#1a1a1a" stroke-width="0.12" textLength="26.6" lengthAdjust="spacingAndGlyphs">clofazimine</text>
<text transform="translate(456.56 74.8) rotate(-89.95)" font-size="5.5" fill="#1a1a1a" stroke="#1a1a1a" stroke-width="0.12" textLength="34.1" lengthAdjust="spacingAndGlyphs">dihydroergotamine</text>
<text transform="translate(460.89 74.8) rotate(-89.95)" font-size="5.5" fill="#1a1a1a" stroke="#1a1a1a" stroke-width="0.12" textLength="20.7" lengthAdjust="spacingAndGlyphs">diazepam</text>
<text transform="translate(465.22 74.8) rotate(-89.95)" font-size="5.5" fill="#1a1a1a" stroke="#1a1a1a" stroke-width="0.12" textLength="22.2" lengthAdjust="spacingAndGlyphs">dasatinib</text>
<text transform="translate(469.55 74.8) rotate(-89.95)" font-size="5.5" fill="#1a1a1a" stroke="#1a1a1a" stroke-width="0.12" textLength="24.7" lengthAdjust="spacingAndGlyphs">dovitinib</text>
<text transform="translate(473.88 74.8) rotate(-89.95)" font-size="5.5" fill="#1a1a1a" stroke="#1a1a1a" stroke-width="0.12" textLength="17.3" lengthAdjust="spacingAndGlyphs">erlotinib</text>
<text transform="translate(478.21 74.8) rotate(-89.95)" font-size="5.5" fill="#1a1a1a" stroke="#1a1a1a" stroke-width="0.12" textLength="16.8" lengthAdjust="spacingAndGlyphs">EX−166</text>
<text transform="translate(482.54 74.8) rotate(-89.95)" font-size="5.5" fill="#1a1a1a" stroke="#1a1a1a" stroke-width="0.12" textLength="41.0" lengthAdjust="spacingAndGlyphs">ethyl−acetylsalicylate</text>
<text transform="translate(486.87 74.8) rotate(-89.95)" font-size="5.5" fill="#1a1a1a" stroke="#1a1a1a" stroke-width="0.12" textLength="31.9" lengthAdjust="spacingAndGlyphs">GSK−1059615</text>
<text transform="translate(491.20 74.8) rotate(-89.95)" font-size="5.5" fill="#1a1a1a" stroke="#1a1a1a" stroke-width="0.12" textLength="30.1" lengthAdjust="spacingAndGlyphs">hydrocortisone</text>
<text transform="translate(495.52 74.8) rotate(-89.95)" font-size="5.5" fill="#1a1a1a" stroke="#1a1a1a" stroke-width="0.12" textLength="20.2" lengthAdjust="spacingAndGlyphs">icotinib</text>
<text transform="translate(499.85 74.8) rotate(-89.95)" font-size="5.5" fill="#1a1a1a" stroke="#1a1a1a" stroke-width="0.12" textLength="15.8" lengthAdjust="spacingAndGlyphs">ibrutinib</text>
<text transform="translate(504.18 74.8) rotate(-89.95)" font-size="5.5" fill="#1a1a1a" stroke="#1a1a1a" stroke-width="0.12" textLength="19.8" lengthAdjust="spacingAndGlyphs">imatinib</text>
<text transform="translate(508.51 74.8) rotate(-89.95)" font-size="5.5" fill="#1a1a1a" stroke="#1a1a1a" stroke-width="0.12" textLength="30.6" lengthAdjust="spacingAndGlyphs">INK−128−10</text>
<text transform="translate(512.84 74.8) rotate(-89.95)" font-size="5.5" fill="#1a1a1a" stroke="#1a1a1a" stroke-width="0.12" textLength="26.6" lengthAdjust="spacingAndGlyphs">KW−2449−b</text>
<text transform="translate(517.17 74.8) rotate(-89.95)" font-size="5.5" fill="#1a1a1a" stroke="#1a1a1a" stroke-width="0.12" textLength="23.2" lengthAdjust="spacingAndGlyphs">KU−60019</text>
<text transform="translate(521.50 74.8) rotate(-89.95)" font-size="5.5" fill="#1a1a1a" stroke="#1a1a1a" stroke-width="0.12" textLength="25.6" lengthAdjust="spacingAndGlyphs">lenalidomide</text>
<text transform="translate(525.83 74.8) rotate(-89.95)" font-size="5.5" fill="#1a1a1a" stroke="#1a1a1a" stroke-width="0.12" textLength="22.2" lengthAdjust="spacingAndGlyphs">linifanib</text>
<text transform="translate(530.16 74.8) rotate(-89.95)" font-size="5.5" fill="#1a1a1a" stroke="#1a1a1a" stroke-width="0.12" textLength="18.8" lengthAdjust="spacingAndGlyphs">LY−294002</text>
<text transform="translate(534.49 74.8) rotate(-89.95)" font-size="5.5" fill="#1a1a1a" stroke="#1a1a1a" stroke-width="0.12" textLength="23.2" lengthAdjust="spacingAndGlyphs">masitinib</text>
<text transform="translate(538.81 74.8) rotate(-89.95)" font-size="5.5" fill="#1a1a1a" stroke="#1a1a1a" stroke-width="0.12" textLength="24.4" lengthAdjust="spacingAndGlyphs">midostaurin</text>
<text transform="translate(543.14 74.8) rotate(-89.95)" font-size="5.5" fill="#1a1a1a" stroke="#1a1a1a" stroke-width="0.12" textLength="39.9" lengthAdjust="spacingAndGlyphs">mycophenolic−acid</text>
<text transform="translate(547.47 74.8) rotate(-89.95)" font-size="5.5" fill="#1a1a1a" stroke="#1a1a1a" stroke-width="0.12" textLength="20.6" lengthAdjust="spacingAndGlyphs">motesanib</text>
<text transform="translate(551.80 74.8) rotate(-89.95)" font-size="5.5" fill="#1a1a1a" stroke="#1a1a1a" stroke-width="0.12" textLength="25.5" lengthAdjust="spacingAndGlyphs">nilotinib</text>
<text transform="translate(556.13 74.8) rotate(-89.95)" font-size="5.5" fill="#1a1a1a" stroke="#1a1a1a" stroke-width="0.12" textLength="27.6" lengthAdjust="spacingAndGlyphs">pazopanib</text>
<text transform="translate(560.46 74.8) rotate(-89.95)" font-size="5.5" fill="#1a1a1a" stroke="#1a1a1a" stroke-width="0.12" textLength="20.6" lengthAdjust="spacingAndGlyphs">NVP−BEZ</text>
<text transform="translate(564.79 74.8) rotate(-89.95)" font-size="5.5" fill="#1a1a1a" stroke="#1a1a1a" stroke-width="0.12" textLength="22.8" lengthAdjust="spacingAndGlyphs">OSI−930−b</text>
<text transform="translate(569.12 74.8) rotate(-89.95)" font-size="5.5" fill="#1a1a1a" stroke="#1a1a1a" stroke-width="0.12" textLength="24.9" lengthAdjust="spacingAndGlyphs">PD−173074</text>
<text transform="translate(573.45 74.8) rotate(-89.95)" font-size="5.5" fill="#1a1a1a" stroke="#1a1a1a" stroke-width="0.12" textLength="25.5" lengthAdjust="spacingAndGlyphs">PF−562271</text>
<text transform="translate(577.77 74.8) rotate(-89.95)" font-size="5.5" fill="#1a1a1a" stroke="#1a1a1a" stroke-width="0.12" textLength="19.0" lengthAdjust="spacingAndGlyphs">ponatinib</text>
<text transform="translate(582.10 74.8) rotate(-89.95)" font-size="5.5" fill="#1a1a1a" stroke="#1a1a1a" stroke-width="0.12" textLength="17.9" lengthAdjust="spacingAndGlyphs">quinine</text>
<text transform="translate(586.43 74.8) rotate(-89.95)" font-size="5.5" fill="#1a1a1a" stroke="#1a1a1a" stroke-width="0.12" textLength="22.8" lengthAdjust="spacingAndGlyphs">regorafenib</text>
<text transform="translate(590.76 74.8) rotate(-89.95)" font-size="5.5" fill="#1a1a1a" stroke="#1a1a1a" stroke-width="0.12" textLength="24.3" lengthAdjust="spacingAndGlyphs">ruxolitinib</text>
<text transform="translate(595.09 74.8) rotate(-89.95)" font-size="5.5" fill="#1a1a1a" stroke="#1a1a1a" stroke-width="0.12" textLength="55.9" lengthAdjust="spacingAndGlyphs">quinoxaline−carboxylate</text>
<text transform="translate(599.42 74.8) rotate(-89.95)" font-size="5.5" fill="#1a1a1a" stroke="#1a1a1a" stroke-width="0.12" textLength="19.5" lengthAdjust="spacingAndGlyphs">SB−216</text>
<text transform="translate(603.75 74.8) rotate(-89.95)" font-size="5.5" fill="#1a1a1a" stroke="#1a1a1a" stroke-width="0.12" textLength="23.7" lengthAdjust="spacingAndGlyphs">semaxanib</text>
<text transform="translate(608.08 74.8) rotate(-89.95)" font-size="5.5" fill="#1a1a1a" stroke="#1a1a1a" stroke-width="0.12" textLength="18.9" lengthAdjust="spacingAndGlyphs">SU−11274</text>
<text transform="translate(612.41 74.8) rotate(-89.95)" font-size="5.5" fill="#1a1a1a" stroke="#1a1a1a" stroke-width="0.12" textLength="37.4" lengthAdjust="spacingAndGlyphs">sunitinib−malate</text>
<text transform="translate(616.74 74.8) rotate(-89.95)" font-size="5.5" fill="#1a1a1a" stroke="#1a1a1a" stroke-width="0.12" textLength="26.0" lengthAdjust="spacingAndGlyphs">tandutinib</text>
<text transform="translate(621.07 74.8) rotate(-89.95)" font-size="5.5" fill="#1a1a1a" stroke="#1a1a1a" stroke-width="0.12" textLength="22.5" lengthAdjust="spacingAndGlyphs">tivozanib</text>
<text transform="translate(625.39 74.8) rotate(-89.95)" font-size="5.5" fill="#1a1a1a" stroke="#1a1a1a" stroke-width="0.12" textLength="19.5" lengthAdjust="spacingAndGlyphs">TG−10</text>
<text transform="translate(629.72 74.8) rotate(-89.95)" font-size="5.5" fill="#e8174f" stroke="#e8174f" stroke-width="0.12" textLength="21.3" lengthAdjust="spacingAndGlyphs">sorafenib</text>
<text transform="translate(634.05 74.8) rotate(-89.95)" font-size="5.5" fill="#1a1a1a" stroke="#1a1a1a" stroke-width="0.12" textLength="27.8" lengthAdjust="spacingAndGlyphs">telatinib</text>
<text transform="translate(638.38 74.8) rotate(-89.95)" font-size="5.5" fill="#1a1a1a" stroke="#1a1a1a" stroke-width="0.12" textLength="26.6" lengthAdjust="spacingAndGlyphs">vandetanib</text>
<text transform="translate(642.71 74.8) rotate(-89.95)" font-size="5.5" fill="#1a1a1a" stroke="#1a1a1a" stroke-width="0.12" textLength="28.4" lengthAdjust="spacingAndGlyphs">vatalanib−b</text>
<text transform="translate(647.04 74.8) rotate(-89.95)" font-size="5.5" fill="#1a1a1a" stroke="#1a1a1a" stroke-width="0.12" textLength="23.1" lengthAdjust="spacingAndGlyphs">WZ−4002</text>
<text transform="translate(651.37 74.8) rotate(-89.95)" font-size="5.5" fill="#1a1a1a" stroke="#1a1a1a" stroke-width="0.12" textLength="9.4" lengthAdjust="spacingAndGlyphs">W−7</text>
<path d="M419.70 80.60H421.1M419.70 85.28H421.1M419.70 89.97H421.1M419.70 94.65H421.1M419.70 99.34H421.1M419.70 104.02H421.1M419.70 108.70H421.1M419.70 113.39H421.1M419.70 118.07H421.1M419.70 122.76H421.1M419.70 127.44H421.1M419.70 132.12H421.1M419.70 136.81H421.1M419.70 141.49H421.1M419.70 146.18H421.1M419.70 150.86H421.1M419.70 155.54H421.1M419.70 160.23H421.1M419.70 164.91H421.1M419.70 169.60H421.1M419.70 174.28H421.1M419.70 178.96H421.1M419.70 183.65H421.1M419.70 188.33H421.1M419.70 193.02H421.1M419.70 197.70H421.1M419.70 202.38H421.1M419.70 207.07H421.1M419.70 211.75H421.1M419.70 216.44H421.1M419.70 221.12H421.1M419.70 225.80H421.1M419.70 230.49H421.1M419.70 235.17H421.1M419.70 239.86H421.1M419.70 244.54H421.1M419.70 249.22H421.1M419.70 253.91H421.1M419.70 258.59H421.1M419.70 263.28H421.1M419.70 267.96H421.1M419.70 272.64H421.1M419.70 277.33H421.1M419.70 282.01H421.1M419.70 286.70H421.1M419.70 291.38H421.1M419.70 296.06H421.1M419.70 300.75H421.1M419.70 305.43H421.1M419.70 310.12H421.1M419.70 314.80H421.1M419.70 319.48H421.1M419.70 324.17H421.1M423.66 76.40V77.8M427.99 76.40V77.8M432.32 76.40V77.8M436.65 76.40V77.8M440.98 76.40V77.8M445.31 76.40V77.8M449.63 76.40V77.8M453.96 76.40V77.8M458.29 76.40V77.8M462.62 76.40V77.8M466.95 76.40V77.8M471.28 76.40V77.8M475.61 76.40V77.8M479.94 76.40V77.8M484.27 76.40V77.8M488.60 76.40V77.8M492.92 76.40V77.8M497.25 76.40V77.8M501.58 76.40V77.8M505.91 76.40V77.8M510.24 76.40V77.8M514.57 76.40V77.8M518.90 76.40V77.8M523.23 76.40V77.8M527.56 76.40V77.8M531.88 76.40V77.8M536.21 76.40V77.8M540.54 76.40V77.8M544.87 76.40V77.8M549.20 76.40V77.8M553.53 76.40V77.8M557.86 76.40V77.8M562.19 76.40V77.8M566.52 76.40V77.8M570.85 76.40V77.8M575.17 76.40V77.8M579.50 76.40V77.8M583.83 76.40V77.8M588.16 76.40V77.8M592.49 76.40V77.8M596.82 76.40V77.8M601.15 76.40V77.8M605.48 76.40V77.8M609.81 76.40V77.8M614.14 76.40V77.8M618.47 76.40V77.8M622.79 76.40V77.8M627.12 76.40V77.8M631.45 76.40V77.8M635.78 76.40V77.8M640.11 76.40V77.8M644.44 76.40V77.8M648.77 76.40V77.8" stroke="#333" stroke-width="0.5" fill="none"/>
<circle cx="544.87" cy="80.60" r="1.95" fill="#5aaef0"/>
<circle cx="553.53" cy="80.60" r="1.95" fill="#3b72aa"/>
<circle cx="596.82" cy="80.60" r="1.95" fill="#5aaef0"/>
<circle cx="627.12" cy="80.60" r="1.95" fill="#5aaef0"/>
<circle cx="566.52" cy="85.28" r="1.95" fill="#5aaef0"/>
<circle cx="588.16" cy="85.28" r="1.95" fill="#5aaef0"/>
<circle cx="531.88" cy="89.97" r="1.95" fill="#4a90d2"/>
<circle cx="562.19" cy="89.97" r="1.95" fill="#3b72aa"/>
<circle cx="553.53" cy="94.65" r="1.95" fill="#3b72aa"/>
<circle cx="627.12" cy="94.65" r="1.95" fill="#5aaef0"/>
<circle cx="440.98" cy="99.34" r="1.95" fill="#5aaef0"/>
<circle cx="605.48" cy="99.34" r="1.95" fill="#3b72aa"/>
<circle cx="640.11" cy="104.02" r="1.95" fill="#4a90d2"/>
<circle cx="644.44" cy="104.02" r="1.95" fill="#3b72aa"/>
<circle cx="536.21" cy="108.70" r="1.95" fill="#3b72aa"/>
<circle cx="622.79" cy="108.70" r="1.95" fill="#1c3a5c"/>
<circle cx="544.87" cy="113.39" r="1.95" fill="#5aaef0"/>
<circle cx="627.12" cy="113.39" r="1.95" fill="#5aaef0"/>
<circle cx="536.21" cy="118.07" r="1.95" fill="#3b72aa"/>
<circle cx="583.83" cy="118.07" r="1.95" fill="#5aaef0"/>
<circle cx="436.65" cy="122.76" r="1.95" fill="#5aaef0"/>
<circle cx="492.92" cy="122.76" r="1.95" fill="#5aaef0"/>
<circle cx="553.53" cy="127.44" r="1.95" fill="#3b72aa"/>
<circle cx="631.45" cy="127.44" r="1.95" fill="#5aaef0"/>
<circle cx="432.32" cy="132.12" r="1.95" fill="#3b72aa"/>
<circle cx="627.12" cy="132.12" r="1.95" fill="#5aaef0"/>
<circle cx="453.96" cy="136.81" r="1.95" fill="#5aaef0"/>
<circle cx="614.14" cy="136.81" r="1.95" fill="#5aaef0"/>
<circle cx="596.82" cy="141.49" r="1.95" fill="#5aaef0"/>
<circle cx="627.12" cy="141.49" r="1.95" fill="#5aaef0"/>
<circle cx="449.63" cy="146.18" r="1.95" fill="#4a90d2"/>
<circle cx="549.20" cy="150.86" r="1.95" fill="#5aaef0"/>
<circle cx="601.15" cy="155.54" r="1.95" fill="#3b72aa"/>
<circle cx="557.86" cy="160.23" r="1.95" fill="#4a90d2"/>
<circle cx="488.60" cy="164.91" r="1.95" fill="#4a90d2"/>
<circle cx="514.57" cy="169.60" r="1.95" fill="#4a90d2"/>
<circle cx="445.31" cy="174.28" r="1.95" fill="#5aaef0"/>
<circle cx="462.62" cy="178.96" r="1.95" fill="#3b72aa"/>
<circle cx="570.85" cy="183.65" r="1.95" fill="#3b72aa"/>
<circle cx="648.77" cy="188.33" r="1.95" fill="#3b72aa"/>
<circle cx="423.66" cy="193.02" r="1.95" fill="#5aaef0"/>
<circle cx="540.54" cy="197.70" r="1.95" fill="#3b72aa"/>
<circle cx="536.21" cy="202.38" r="1.95" fill="#4a90d2"/>
<circle cx="471.28" cy="207.07" r="1.95" fill="#3b72aa"/>
<circle cx="505.91" cy="211.75" r="1.95" fill="#4a90d2"/>
<circle cx="609.81" cy="216.44" r="1.95" fill="#4a90d2"/>
<circle cx="484.27" cy="221.12" r="1.95" fill="#4a90d2"/>
<circle cx="479.94" cy="225.80" r="1.95" fill="#3b72aa"/>
<circle cx="549.20" cy="230.49" r="1.95" fill="#5aaef0"/>
<circle cx="501.58" cy="235.17" r="1.95" fill="#3b72aa"/>
<circle cx="527.56" cy="239.86" r="1.95" fill="#4a90d2"/>
<circle cx="497.25" cy="244.54" r="1.95" fill="#5aaef0"/>
<circle cx="427.99" cy="249.22" r="1.95" fill="#3b72aa"/>
<circle cx="458.29" cy="253.91" r="1.95" fill="#5aaef0"/>
<circle cx="510.24" cy="258.59" r="1.95" fill="#3b72aa"/>
<circle cx="540.54" cy="263.28" r="1.95" fill="#3b72aa"/>
<circle cx="466.95" cy="267.96" r="1.95" fill="#5aaef0"/>
<circle cx="635.78" cy="272.64" r="1.95" fill="#4a90d2"/>
<circle cx="592.49" cy="277.33" r="1.95" fill="#1c3a5c"/>
<circle cx="575.17" cy="282.01" r="1.95" fill="#4a90d2"/>
<circle cx="475.61" cy="286.70" r="1.95" fill="#4a90d2"/>
<circle cx="518.90" cy="291.38" r="1.95" fill="#4a90d2"/>
<circle cx="466.95" cy="296.06" r="1.95" fill="#5aaef0"/>
<circle cx="579.50" cy="300.75" r="1.95" fill="#5aaef0"/>
<circle cx="536.21" cy="305.43" r="1.95" fill="#4a90d2"/>
<circle cx="627.12" cy="310.12" r="1.95" fill="#5aaef0"/>
<circle cx="618.47" cy="314.80" r="1.95" fill="#4a90d2"/>
<circle cx="544.87" cy="319.48" r="1.95" fill="#5aaef0"/>
<circle cx="523.23" cy="324.17" r="1.95" fill="#1c3a5c"/>
<rect x="653.3" y="78.50" width="24.80" height="4.2" fill="#bdbdbd"/>
<rect x="653.3" y="83.18" width="12.40" height="4.2" fill="#bdbdbd"/>
<rect x="653.3" y="87.87" width="12.40" height="4.2" fill="#bdbdbd"/>
<rect x="653.3" y="92.55" width="12.40" height="4.2" fill="#bdbdbd"/>
<rect x="653.3" y="97.24" width="12.40" height="4.2" fill="#bdbdbd"/>
<rect x="653.3" y="101.92" width="12.40" height="4.2" fill="#bdbdbd"/>
<rect x="653.3" y="106.60" width="12.40" height="4.2" fill="#bdbdbd"/>
<rect x="653.3" y="111.29" width="12.40" height="4.2" fill="#bdbdbd"/>
<rect x="653.3" y="115.97" width="12.40" height="4.2" fill="#bdbdbd"/>
<rect x="653.3" y="120.66" width="12.40" height="4.2" fill="#bdbdbd"/>
<rect x="653.3" y="125.34" width="12.40" height="4.2" fill="#bdbdbd"/>
<rect x="653.3" y="130.02" width="12.40" height="4.2" fill="#bdbdbd"/>
<rect x="653.3" y="134.71" width="12.40" height="4.2" fill="#bdbdbd"/>
<rect x="653.3" y="139.39" width="12.40" height="4.2" fill="#bdbdbd"/>
<rect x="653.3" y="144.08" width="6.20" height="4.2" fill="#bdbdbd"/>
<rect x="653.3" y="148.76" width="6.20" height="4.2" fill="#bdbdbd"/>
<rect x="653.3" y="153.44" width="6.20" height="4.2" fill="#bdbdbd"/>
<rect x="653.3" y="158.13" width="6.20" height="4.2" fill="#bdbdbd"/>
<rect x="653.3" y="162.81" width="6.20" height="4.2" fill="#bdbdbd"/>
<rect x="653.3" y="167.50" width="6.20" height="4.2" fill="#bdbdbd"/>
<rect x="653.3" y="172.18" width="6.20" height="4.2" fill="#bdbdbd"/>
<rect x="653.3" y="176.86" width="6.20" height="4.2" fill="#bdbdbd"/>
<rect x="653.3" y="181.55" width="6.20" height="4.2" fill="#bdbdbd"/>
<rect x="653.3" y="186.23" width="6.20" height="4.2" fill="#bdbdbd"/>
<rect x="653.3" y="190.92" width="6.20" height="4.2" fill="#bdbdbd"/>
<rect x="653.3" y="195.60" width="6.20" height="4.2" fill="#bdbdbd"/>
<rect x="653.3" y="200.28" width="6.20" height="4.2" fill="#bdbdbd"/>
<rect x="653.3" y="204.97" width="6.20" height="4.2" fill="#bdbdbd"/>
<rect x="653.3" y="209.65" width="6.20" height="4.2" fill="#bdbdbd"/>
<rect x="653.3" y="214.34" width="6.20" height="4.2" fill="#bdbdbd"/>
<rect x="653.3" y="219.02" width="6.20" height="4.2" fill="#bdbdbd"/>
<rect x="653.3" y="223.70" width="6.20" height="4.2" fill="#bdbdbd"/>
<rect x="653.3" y="228.39" width="6.20" height="4.2" fill="#bdbdbd"/>
<rect x="653.3" y="233.07" width="6.20" height="4.2" fill="#bdbdbd"/>
<rect x="653.3" y="237.76" width="6.20" height="4.2" fill="#bdbdbd"/>
<rect x="653.3" y="242.44" width="6.20" height="4.2" fill="#bdbdbd"/>
<rect x="653.3" y="247.12" width="6.20" height="4.2" fill="#bdbdbd"/>
<rect x="653.3" y="251.81" width="6.20" height="4.2" fill="#bdbdbd"/>
<rect x="653.3" y="256.49" width="6.20" height="4.2" fill="#bdbdbd"/>
<rect x="653.3" y="261.18" width="6.20" height="4.2" fill="#bdbdbd"/>
<rect x="653.3" y="265.86" width="6.20" height="4.2" fill="#bdbdbd"/>
<rect x="653.3" y="270.54" width="6.20" height="4.2" fill="#bdbdbd"/>
<rect x="653.3" y="275.23" width="6.20" height="4.2" fill="#bdbdbd"/>
<rect x="653.3" y="279.91" width="6.20" height="4.2" fill="#bdbdbd"/>
<rect x="653.3" y="284.60" width="6.20" height="4.2" fill="#bdbdbd"/>
<rect x="653.3" y="289.28" width="6.20" height="4.2" fill="#bdbdbd"/>
<rect x="653.3" y="293.96" width="6.20" height="4.2" fill="#bdbdbd"/>
<rect x="653.3" y="298.65" width="6.20" height="4.2" fill="#bdbdbd"/>
<rect x="653.3" y="303.33" width="6.20" height="4.2" fill="#bdbdbd"/>
<rect x="653.3" y="308.02" width="6.20" height="4.2" fill="#bdbdbd"/>
<rect x="653.3" y="312.70" width="6.20" height="4.2" fill="#bdbdbd"/>
<rect x="653.3" y="317.38" width="6.20" height="4.2" fill="#bdbdbd"/>
<rect x="653.3" y="322.07" width="6.20" height="4.2" fill="#bdbdbd"/>
<line x1="653.0" y1="327.6" x2="684.5" y2="327.6" stroke="#9a9a9a" stroke-width="0.8"/>
<text transform="translate(653.60 72.60) rotate(0.05)" font-size="10.3" text-anchor="start" font-weight="bold" font-style="normal" fill="#000" >count</text>
<text transform="translate(279.3 183.2) rotate(-89.95)" font-size="10.75" text-anchor="middle" font-weight="bold">Mechanism of action</text>
<text transform="translate(0.90 353.90) rotate(0.05)" font-size="16.8" text-anchor="start" font-weight="normal" font-style="normal" fill="#000" stroke="#000" stroke-width="0.35">c</text>
<rect x="179.2" y="347.70000000000005" width="10" height="9.8" fill="#57a6d4" fill-opacity="0.28"/>
<line x1="179.7" y1="352.6" x2="188.7" y2="352.6" stroke="#5a9bd8" stroke-width="0.95"/>
<line x1="184.2" y1="350.90000000000003" x2="184.2" y2="354.3" stroke="#5a9bd8" stroke-width="0.8"/>
<text transform="translate(192.40 354.90) rotate(0.05)" font-size="6.35" text-anchor="start" font-weight="normal" font-style="normal" fill="#222"  stroke="#222" stroke-width="0.14">A−P Score low</text>
<rect x="235.9" y="347.70000000000005" width="10" height="9.8" fill="#e04b55" fill-opacity="0.28"/>
<line x1="236.4" y1="352.6" x2="245.4" y2="352.6" stroke="#e04b55" stroke-width="0.95"/>
<line x1="240.9" y1="350.90000000000003" x2="240.9" y2="354.3" stroke="#e04b55" stroke-width="0.8"/>
<text transform="translate(249.10 354.90) rotate(0.05)" font-size="6.35" text-anchor="start" font-weight="normal" font-style="normal" fill="#222"  stroke="#222" stroke-width="0.14">A−P Score high</text>
<text transform="translate(177.00 372.90) rotate(0.05)" font-size="11.0" text-anchor="start" font-weight="bold" font-style="italic" fill="#000" >Log−rank</text>
<text transform="translate(232.40 372.90) rotate(0.05)" font-size="11.0" text-anchor="start" font-weight="bold" font-style="italic" fill="#000" >p = 0.00038</text>
<polygon points="77.60,369.80 82.20,372.20 83.90,375.70 85.20,380.00 88.20,384.10 91.00,388.20 93.70,392.30 96.40,396.40 99.80,399.80 103.90,401.80 107.80,405.00 111.20,407.70 115.30,411.80 119.30,415.20 123.40,418.00 128.00,419.30 131.20,420.50 143.50,421.00 145.60,426.10 153.70,428.20 155.80,431.20 166.00,432.30 169.10,436.40 180.00,437.90 182.00,440.20 204.00,440.20 204.00,443.30 209.10,443.30 209.10,448.90 212.20,448.90 212.20,452.00 303.60,452.00 303.60,481.80 212.20,481.80 212.20,478.50 209.10,478.50 209.10,465.80 191.80,465.80 191.80,463.20 180.00,462.90 166.00,461.90 156.80,455.80 155.80,451.70 146.60,449.60 144.50,443.50 132.30,442.00 126.10,438.90 121.00,437.50 116.60,434.30 111.50,430.90 109.00,427.00 107.50,422.50 104.00,419.00 100.50,415.00 96.50,410.00 93.50,406.50 91.60,402.50 89.60,397.70 87.50,392.30 85.50,386.80 84.00,383.50 82.20,379.00 79.80,374.50 77.60,369.80" fill="#57a6d4" fill-opacity="0.28" stroke="none"/>
<polyline points="77.60,369.80 79.80,372.20 82.20,376.30 84.50,380.00 85.20,385.50 86.90,387.50 88.90,390.90 91.00,393.60 92.70,397.70 94.70,401.10 96.10,403.90 98.50,405.90 100.50,407.30 103.20,410.00 106.00,411.40 107.80,415.20 109.10,418.00 111.90,420.00 113.90,422.00 116.60,424.10 118.00,426.80 121.40,427.50 124.80,428.90 128.20,429.70 130.20,431.20 133.30,432.30 142.50,432.30 144.50,435.30 147.60,438.90 152.70,439.40 154.80,441.00 156.80,445.00 165.00,445.00 167.00,449.60 170.10,452.20 182.00,452.30 182.00,454.90 204.50,454.90 204.50,459.60 208.60,459.60 208.60,467.80 212.70,467.80 212.70,471.70 303.60,471.70" fill="none" stroke="#5a9bd8" stroke-width="1.05" stroke-linejoin="round"/>
<polygon points="77.60,369.80 81.00,372.50 83.00,376.00 84.10,380.00 85.50,386.80 87.20,392.30 88.90,397.70 91.00,402.50 92.10,405.00 94.10,409.10 96.90,413.20 99.60,418.00 101.60,422.70 103.00,427.50 107.10,430.20 111.90,432.30 116.60,434.30 120.00,438.50 124.50,440.50 128.00,442.00 133.30,446.10 140.40,447.60 146.60,449.60 156.30,451.70 166.00,453.70 180.00,454.80 182.00,456.60 191.80,456.60 191.80,458.60 215.30,458.60 215.30,460.20 230.60,460.20 230.60,462.20 278.00,462.20 278.00,485.70 230.60,485.70 230.60,481.60 215.30,481.60 215.30,478.60 191.80,478.60 191.80,475.50 181.00,475.50 180.00,474.70 171.10,473.20 164.00,472.10 154.80,471.10 145.60,470.10 140.40,467.00 133.30,464.00 130.20,461.90 124.10,459.90 120.00,457.80 116.90,457.30 109.60,452.20 106.00,449.00 103.70,445.00 101.60,441.10 98.90,437.70 96.90,434.30 94.80,430.20 93.50,426.10 92.10,422.00 90.70,417.30 89.40,413.20 88.00,407.00 86.20,403.20 84.80,399.10 83.50,393.60 82.10,386.80 81.40,380.00 80.80,378.00 79.50,374.00 77.60,369.80" fill="#e04b55" fill-opacity="0.28" stroke="none"/>
<polyline points="77.60,369.80 80.00,372.00 81.50,375.00 82.80,380.00 83.80,386.80 84.80,391.60 85.80,396.40 87.20,400.50 88.20,404.50 90.70,410.50 92.80,415.20 94.80,420.00 96.90,424.80 98.90,428.90 100.30,432.30 101.60,435.70 103.00,438.40 105.70,440.40 108.40,442.10 111.20,443.80 114.00,445.70 118.40,449.50 122.00,450.70 125.10,452.70 130.20,454.20 133.30,455.30 134.30,457.30 139.40,457.80 142.50,459.40 144.50,460.90 148.60,461.90 162.90,462.10 164.00,464.00 175.20,464.00 177.20,466.00 180.00,466.00 191.20,467.60 191.20,470.40 215.30,470.40 215.30,473.40 230.60,473.40 230.60,478.20 278.00,478.20 278.00,493.50" fill="none" stroke="#e04b55" stroke-width="1.05" stroke-linejoin="round"/>
<path d="M188.8 453.7V456.09999999999997M197.3 453.7V456.09999999999997M201.1 453.7V456.09999999999997M219.2 470.5V472.9M224.8 470.5V472.9M228.6 470.5V472.9M291.3 470.5V472.9M303.2 470.5V472.9" stroke="#5a9bd8" stroke-width="0.6"/>
<path d="M183 466.40000000000003V468.8M187 466.40000000000003V468.8M193.5 469.2V471.59999999999997M199.2 469.2V471.59999999999997M220.1 472.2V474.59999999999997M232.4 477.0V479.4M246.7 477.0V479.4" stroke="#e04b55" stroke-width="0.6"/>
<path d="M77.5 431.2H131.4M99.5 431.2V492.4M131.4 431.2V492.4" stroke="#555" stroke-width="0.6" stroke-dasharray="1.6,1.6" fill="none"/>
<line x1="65.5" y1="364.3" x2="65.5" y2="499.0" stroke="#333" stroke-width="0.8"/>
<line x1="65.5" y1="499.0" x2="311.0" y2="499.0" stroke="#333" stroke-width="0.8"/>
<line x1="63.7" y1="370.7" x2="65.5" y2="370.7" stroke="#333" stroke-width="0.6"/>
<text transform="translate(63.30 372.80) rotate(0.05)" font-size="7.0" text-anchor="end" font-weight="normal" font-style="normal" fill="#222"  stroke="#222" stroke-width="0.14">1.00</text>
<line x1="63.7" y1="401.1" x2="65.5" y2="401.1" stroke="#333" stroke-width="0.6"/>
<text transform="translate(63.30 403.20) rotate(0.05)" font-size="7.0" text-anchor="end" font-weight="normal" font-style="normal" fill="#222"  stroke="#222" stroke-width="0.14">0.75</text>
<line x1="63.7" y1="431.5" x2="65.5" y2="431.5" stroke="#333" stroke-width="0.6"/>
<text transform="translate(63.30 433.60) rotate(0.05)" font-size="7.0" text-anchor="end" font-weight="normal" font-style="normal" fill="#222"  stroke="#222" stroke-width="0.14">0.50</text>
<line x1="63.7" y1="461.9" x2="65.5" y2="461.9" stroke="#333" stroke-width="0.6"/>
<text transform="translate(63.30 464.00) rotate(0.05)" font-size="7.0" text-anchor="end" font-weight="normal" font-style="normal" fill="#222"  stroke="#222" stroke-width="0.14">0.25</text>
<line x1="63.7" y1="492.3" x2="65.5" y2="492.3" stroke="#333" stroke-width="0.6"/>
<text transform="translate(63.30 494.40) rotate(0.05)" font-size="7.0" text-anchor="end" font-weight="normal" font-style="normal" fill="#222"  stroke="#222" stroke-width="0.14">0.00</text>
<line x1="77.50" y1="499.0" x2="77.50" y2="500.8" stroke="#333" stroke-width="0.6"/>
<text transform="translate(77.50 507.10) rotate(0.05)" font-size="7.0" text-anchor="middle" font-weight="normal" font-style="normal" fill="#222"  stroke="#222" stroke-width="0.14">0</text>
<line x1="139.60" y1="499.0" x2="139.60" y2="500.8" stroke="#333" stroke-width="0.6"/>
<text transform="translate(139.60 507.10) rotate(0.05)" font-size="7.0" text-anchor="middle" font-weight="normal" font-style="normal" fill="#222"  stroke="#222" stroke-width="0.14">1000</text>
<line x1="201.70" y1="499.0" x2="201.70" y2="500.8" stroke="#333" stroke-width="0.6"/>
<text transform="translate(201.70 507.10) rotate(0.05)" font-size="7.0" text-anchor="middle" font-weight="normal" font-style="normal" fill="#222"  stroke="#222" stroke-width="0.14">2000</text>
<line x1="263.80" y1="499.0" x2="263.80" y2="500.8" stroke="#333" stroke-width="0.6"/>
<text transform="translate(263.80 507.10) rotate(0.05)" font-size="7.0" text-anchor="middle" font-weight="normal" font-style="normal" fill="#222"  stroke="#222" stroke-width="0.14">3000</text>
<text transform="translate(43.8 429.2) rotate(-89.95)" font-size="8.7" text-anchor="middle" fill="#111">Progression−free survival(%)</text>
<text transform="translate(207.30 523.20) rotate(0.05)" font-size="7.55" text-anchor="middle" font-weight="normal" font-style="normal" fill="#111"  stroke="#111" stroke-width="0.14">Time(days)</text>
<text transform="translate(66.00 526.10) rotate(0.05)" font-size="7.35" text-anchor="start" font-weight="normal" font-style="normal" fill="#111"  stroke="#111" stroke-width="0.14">Number at risk</text>
<line x1="65.5" y1="531.9" x2="65.5" y2="563.3" stroke="#333" stroke-width="0.8"/>
<line x1="65.5" y1="563.3" x2="335.5" y2="563.3" stroke="#333" stroke-width="0.8"/>
<line x1="63.7" y1="539.6" x2="65.5" y2="539.6" stroke="#333" stroke-width="0.6"/>
<line x1="63.7" y1="553.5" x2="65.5" y2="553.5" stroke="#333" stroke-width="0.6"/>
<text transform="translate(62.60 542.00) rotate(0.05)" font-size="7.2" text-anchor="end" font-weight="normal" font-style="normal" fill="#5a9bd8"  stroke="#5a9bd8" stroke-width="0.14">A−P Score low</text>
<text transform="translate(62.60 555.90) rotate(0.05)" font-size="7.2" text-anchor="end" font-weight="normal" font-style="normal" fill="#e04b55"  stroke="#e04b55" stroke-width="0.14">A−P Score high</text>
<text transform="translate(80.60 542.10) rotate(0.05)" font-size="7.3" text-anchor="middle" font-weight="normal" font-style="normal" fill="#222"  stroke="#222" stroke-width="0.14">169</text>
<text transform="translate(80.60 556.00) rotate(0.05)" font-size="7.3" text-anchor="middle" font-weight="normal" font-style="normal" fill="#222"  stroke="#222" stroke-width="0.14">170</text>
<text transform="translate(141.00 542.10) rotate(0.05)" font-size="7.3" text-anchor="middle" font-weight="normal" font-style="normal" fill="#222"  stroke="#222" stroke-width="0.14">40</text>
<text transform="translate(141.00 556.00) rotate(0.05)" font-size="7.3" text-anchor="middle" font-weight="normal" font-style="normal" fill="#222"  stroke="#222" stroke-width="0.14">27</text>
<text transform="translate(202.00 542.10) rotate(0.05)" font-size="7.3" text-anchor="middle" font-weight="normal" font-style="normal" fill="#222"  stroke="#222" stroke-width="0.14">10</text>
<text transform="translate(202.00 556.00) rotate(0.05)" font-size="7.3" text-anchor="middle" font-weight="normal" font-style="normal" fill="#222"  stroke="#222" stroke-width="0.14">7</text>
<text transform="translate(263.80 542.10) rotate(0.05)" font-size="7.3" text-anchor="middle" font-weight="normal" font-style="normal" fill="#222"  stroke="#222" stroke-width="0.14">2</text>
<text transform="translate(263.80 556.00) rotate(0.05)" font-size="7.3" text-anchor="middle" font-weight="normal" font-style="normal" fill="#222"  stroke="#222" stroke-width="0.14">1</text>
<text transform="translate(324.40 542.10) rotate(0.05)" font-size="7.3" text-anchor="middle" font-weight="normal" font-style="normal" fill="#222"  stroke="#222" stroke-width="0.14">0</text>
<text transform="translate(324.40 556.00) rotate(0.05)" font-size="7.3" text-anchor="middle" font-weight="normal" font-style="normal" fill="#222"  stroke="#222" stroke-width="0.14">0</text>
<line x1="77.30" y1="563.3" x2="77.30" y2="565.1" stroke="#333" stroke-width="0.6"/>
<text transform="translate(77.30 571.50) rotate(0.05)" font-size="7.0" text-anchor="middle" font-weight="normal" font-style="normal" fill="#222"  stroke="#222" stroke-width="0.14">0</text>
<line x1="139.15" y1="563.3" x2="139.15" y2="565.1" stroke="#333" stroke-width="0.6"/>
<text transform="translate(139.15 571.50) rotate(0.05)" font-size="7.0" text-anchor="middle" font-weight="normal" font-style="normal" fill="#222"  stroke="#222" stroke-width="0.14">1000</text>
<line x1="201.00" y1="563.3" x2="201.00" y2="565.1" stroke="#333" stroke-width="0.6"/>
<text transform="translate(201.00 571.50) rotate(0.05)" font-size="7.0" text-anchor="middle" font-weight="normal" font-style="normal" fill="#222"  stroke="#222" stroke-width="0.14">2000</text>
<line x1="262.85" y1="563.3" x2="262.85" y2="565.1" stroke="#333" stroke-width="0.6"/>
<text transform="translate(262.85 571.50) rotate(0.05)" font-size="7.0" text-anchor="middle" font-weight="normal" font-style="normal" fill="#222"  stroke="#222" stroke-width="0.14">3000</text>
<line x1="324.70" y1="563.3" x2="324.70" y2="565.1" stroke="#333" stroke-width="0.6"/>
<text transform="translate(324.70 571.50) rotate(0.05)" font-size="7.0" text-anchor="middle" font-weight="normal" font-style="normal" fill="#222"  stroke="#222" stroke-width="0.14">4000</text>
<text transform="translate(207.30 584.50) rotate(0.05)" font-size="7.55" text-anchor="middle" font-weight="normal" font-style="normal" fill="#111"  stroke="#111" stroke-width="0.14">Time(days)</text>
<text transform="translate(335.80 352.80) rotate(0.05)" font-size="16.6" text-anchor="start" font-weight="normal" font-style="normal" fill="#000"  stroke="#000" stroke-width="0.14">d</text>
<rect x="504.6" y="348.5" width="10" height="9.8" fill="#57a6d4" fill-opacity="0.28"/>
<line x1="505.1" y1="353.4" x2="514.1" y2="353.4" stroke="#5a9bd8" stroke-width="0.95"/>
<line x1="509.6" y1="351.7" x2="509.6" y2="355.09999999999997" stroke="#5a9bd8" stroke-width="0.8"/>
<text transform="translate(517.80 355.70) rotate(0.05)" font-size="6.35" text-anchor="start" font-weight="normal" font-style="normal" fill="#222"  stroke="#222" stroke-width="0.14">A−P Score low</text>
<rect x="561.4" y="348.5" width="10" height="9.8" fill="#e04b55" fill-opacity="0.28"/>
<line x1="561.9" y1="353.4" x2="570.9" y2="353.4" stroke="#e04b55" stroke-width="0.95"/>
<line x1="566.4" y1="351.7" x2="566.4" y2="355.09999999999997" stroke="#e04b55" stroke-width="0.8"/>
<text transform="translate(574.60 355.70) rotate(0.05)" font-size="6.35" text-anchor="start" font-weight="normal" font-style="normal" fill="#222"  stroke="#222" stroke-width="0.14">A−P Score high</text>
<text transform="translate(502.00 372.80) rotate(0.05)" font-size="11.0" text-anchor="start" font-weight="bold" font-style="italic" fill="#000" >Log−rank</text>
<text transform="translate(557.00 372.80) rotate(0.05)" font-size="11.0" text-anchor="start" font-weight="bold" font-style="italic" fill="#000" >p = 0.0064</text>
<polygon points="403.50,370.50 409.30,372.00 415.20,374.30 419.90,376.70 425.70,379.00 432.70,381.40 438.50,383.10 444.40,384.90 450.20,386.60 456.10,388.40 463.10,389.50 470.00,390.30 481.70,393.20 493.40,397.30 505.00,399.00 514.40,403.70 528.40,405.40 540.00,406.60 550.40,409.60 572.90,412.70 581.10,415.80 591.30,417.80 605.60,420.50 622.00,422.50 651.60,422.50 651.60,447.40 622.30,447.40 622.30,441.30 592.50,441.30 592.50,436.90 573.00,436.90 560.00,431.50 550.00,428.80 540.00,428.20 530.70,427.00 519.00,425.90 509.70,422.40 499.20,418.90 487.50,417.10 479.30,413.00 470.00,408.90 465.40,407.60 457.20,406.50 449.00,403.00 440.90,399.50 435.00,396.50 430.40,393.60 423.40,389.50 415.20,383.70 407.00,373.80 403.50,370.50" fill="#57a6d4" fill-opacity="0.28" stroke="none"/>
<polyline points="403.50,370.50 408.20,373.80 412.80,377.80 417.50,381.40 422.20,383.70 426.90,385.40 431.50,388.40 436.20,390.70 442.00,391.90 446.70,394.20 452.60,396.50 458.40,398.30 465.40,398.90 470.00,399.60 474.70,400.80 481.70,402.50 484.00,405.40 488.70,406.00 493.40,408.90 505.00,409.30 508.50,411.90 514.40,415.40 523.70,416.50 537.70,417.50 543.60,418.90 550.00,419.50 556.00,421.10 560.50,422.40 572.00,422.60 572.00,425.20 582.00,425.20 582.00,426.40 591.00,426.80 591.00,429.00 599.50,429.00 599.50,431.10 605.00,431.10 605.00,432.50 622.30,432.50 622.30,436.00 652.00,436.00" fill="none" stroke="#5a9bd8" stroke-width="1.05" stroke-linejoin="round"/>
<polygon points="403.50,370.50 412.80,373.20 418.70,379.00 423.40,382.50 429.20,385.40 433.90,388.40 438.50,392.40 444.40,396.50 450.20,399.50 457.20,405.30 465.40,407.90 470.00,409.20 477.00,411.90 487.50,417.70 499.20,419.20 505.00,421.20 512.00,425.30 521.40,428.20 534.20,430.00 550.00,431.10 573.00,432.00 573.00,433.40 592.50,433.40 592.50,435.70 616.20,435.70 616.20,441.30 648.60,441.30 648.60,463.70 616.20,463.70 616.20,459.70 599.50,459.70 599.50,456.20 573.00,456.20 573.00,455.00 555.80,455.00 555.80,453.50 540.00,453.50 530.00,450.50 519.00,448.20 500.40,443.40 487.50,439.90 477.00,434.60 470.00,431.00 458.40,425.00 452.60,422.20 446.70,419.30 442.00,415.20 438.50,411.70 435.00,407.00 430.40,402.40 423.40,398.90 417.50,388.40 415.20,384.90 409.30,376.70 403.50,370.50" fill="#e04b55" fill-opacity="0.28" stroke="none"/>
<polyline points="403.50,370.50 407.00,371.40 411.70,376.70 416.40,381.40 419.90,387.20 423.40,390.10 429.20,393.60 433.90,396.50 436.20,400.00 439.70,405.30 444.40,408.80 449.00,409.40 453.70,414.10 457.20,417.00 464.20,418.70 470.00,420.00 474.70,423.50 481.70,426.50 488.70,430.50 500.40,431.10 505.00,434.00 512.00,436.40 516.70,439.30 523.70,440.50 533.10,442.20 540.00,443.50 556.00,443.50 556.00,445.10 573.00,445.10 573.00,446.50 592.50,446.50 592.50,448.30 599.50,448.30 599.50,450.00 615.30,450.00 615.30,454.00 648.60,454.00" fill="none" stroke="#e04b55" stroke-width="1.05" stroke-linejoin="round"/>
<path d="M595 428.90000000000003V431.3M598 428.90000000000003V431.3M601 428.90000000000003V431.3M609 431.5V433.9M612 431.5V433.9M615 431.5V433.9M627 434.6V437.0M632 434.6V437.0M637 434.6V437.0M642 434.6V437.0M647 434.6V437.0M651 434.6V437.0" stroke="#5a9bd8" stroke-width="0.6"/>
<path d="M592 447.3V449.7M596 447.3V449.7M620 452.8V455.2M624 452.8V455.2M628 452.8V455.2M632 452.8V455.2M636 452.8V455.2M640 452.8V455.2M644 452.8V455.2M648 452.8V455.2" stroke="#e04b55" stroke-width="0.6"/>
<path d="M402.3 431.4H605.3M500.5 431.4V492.4M605.3 431.4V492.4" stroke="#555" stroke-width="0.6" stroke-dasharray="1.6,1.6" fill="none"/>
<line x1="390.5" y1="364.5" x2="390.5" y2="499.0" stroke="#333" stroke-width="0.8"/>
<line x1="390.5" y1="499.0" x2="660.0" y2="499.0" stroke="#333" stroke-width="0.8"/>
<line x1="388.7" y1="370.7" x2="390.5" y2="370.7" stroke="#333" stroke-width="0.6"/>
<text transform="translate(388.30 372.80) rotate(0.05)" font-size="7.0" text-anchor="end" font-weight="normal" font-style="normal" fill="#222"  stroke="#222" stroke-width="0.14">1.00</text>
<line x1="388.7" y1="401.1" x2="390.5" y2="401.1" stroke="#333" stroke-width="0.6"/>
<text transform="translate(388.30 403.20) rotate(0.05)" font-size="7.0" text-anchor="end" font-weight="normal" font-style="normal" fill="#222"  stroke="#222" stroke-width="0.14">0.75</text>
<line x1="388.7" y1="431.5" x2="390.5" y2="431.5" stroke="#333" stroke-width="0.6"/>
<text transform="translate(388.30 433.60) rotate(0.05)" font-size="7.0" text-anchor="end" font-weight="normal" font-style="normal" fill="#222"  stroke="#222" stroke-width="0.14">0.50</text>
<line x1="388.7" y1="461.9" x2="390.5" y2="461.9" stroke="#333" stroke-width="0.6"/>
<text transform="translate(388.30 464.00) rotate(0.05)" font-size="7.0" text-anchor="end" font-weight="normal" font-style="normal" fill="#222"  stroke="#222" stroke-width="0.14">0.25</text>
<line x1="388.7" y1="492.3" x2="390.5" y2="492.3" stroke="#333" stroke-width="0.6"/>
<text transform="translate(388.30 494.40) rotate(0.05)" font-size="7.0" text-anchor="end" font-weight="normal" font-style="normal" fill="#222"  stroke="#222" stroke-width="0.14">0.00</text>
<line x1="402.30" y1="499.0" x2="402.30" y2="500.8" stroke="#333" stroke-width="0.6"/>
<text transform="translate(402.30 507.10) rotate(0.05)" font-size="7.0" text-anchor="middle" font-weight="normal" font-style="normal" fill="#222"  stroke="#222" stroke-width="0.14">0</text>
<line x1="464.10" y1="499.0" x2="464.10" y2="500.8" stroke="#333" stroke-width="0.6"/>
<text transform="translate(464.10 507.10) rotate(0.05)" font-size="7.0" text-anchor="middle" font-weight="normal" font-style="normal" fill="#222"  stroke="#222" stroke-width="0.14">500</text>
<line x1="525.90" y1="499.0" x2="525.90" y2="500.8" stroke="#333" stroke-width="0.6"/>
<text transform="translate(525.90 507.10) rotate(0.05)" font-size="7.0" text-anchor="middle" font-weight="normal" font-style="normal" fill="#222"  stroke="#222" stroke-width="0.14">1000</text>
<line x1="587.70" y1="499.0" x2="587.70" y2="500.8" stroke="#333" stroke-width="0.6"/>
<text transform="translate(587.70 507.10) rotate(0.05)" font-size="7.0" text-anchor="middle" font-weight="normal" font-style="normal" fill="#222"  stroke="#222" stroke-width="0.14">1500</text>
<line x1="649.50" y1="499.0" x2="649.50" y2="500.8" stroke="#333" stroke-width="0.6"/>
<text transform="translate(649.50 507.10) rotate(0.05)" font-size="7.0" text-anchor="middle" font-weight="normal" font-style="normal" fill="#222"  stroke="#222" stroke-width="0.14">2000</text>
<text transform="translate(367.1 429.2) rotate(-89.95)" font-size="8.7" text-anchor="middle" fill="#111">Progression−free survival(%)</text>
<text transform="translate(527.40 521.70) rotate(0.05)" font-size="7.55" text-anchor="middle" font-weight="normal" font-style="normal" fill="#111"  stroke="#111" stroke-width="0.14">Time(days)</text>
<text transform="translate(390.90 526.10) rotate(0.05)" font-size="7.35" text-anchor="start" font-weight="normal" font-style="normal" fill="#111"  stroke="#111" stroke-width="0.14">Number at risk</text>
<line x1="390.5" y1="529.0" x2="390.5" y2="560.4" stroke="#333" stroke-width="0.8"/>
<line x1="390.5" y1="560.4" x2="660.0" y2="560.4" stroke="#333" stroke-width="0.8"/>
<line x1="388.7" y1="537.0" x2="390.5" y2="537.0" stroke="#333" stroke-width="0.6"/>
<line x1="388.7" y1="551.3" x2="390.5" y2="551.3" stroke="#333" stroke-width="0.6"/>
<text transform="translate(387.50 539.40) rotate(0.05)" font-size="7.2" text-anchor="end" font-weight="normal" font-style="normal" fill="#5a9bd8"  stroke="#5a9bd8" stroke-width="0.14">A−PScore low</text>
<text transform="translate(388.30 553.70) rotate(0.05)" font-size="7.2" text-anchor="end" font-weight="normal" font-style="normal" fill="#e04b55"  stroke="#e04b55" stroke-width="0.14">A−P Score high</text>
<text transform="translate(405.50 539.50) rotate(0.05)" font-size="7.3" text-anchor="middle" font-weight="normal" font-style="normal" fill="#222"  stroke="#222" stroke-width="0.14">121</text>
<text transform="translate(405.50 553.80) rotate(0.05)" font-size="7.3" text-anchor="middle" font-weight="normal" font-style="normal" fill="#222"  stroke="#222" stroke-width="0.14">121</text>
<text transform="translate(466.10 539.50) rotate(0.05)" font-size="7.3" text-anchor="middle" font-weight="normal" font-style="normal" fill="#222"  stroke="#222" stroke-width="0.14">89</text>
<text transform="translate(466.10 553.80) rotate(0.05)" font-size="7.3" text-anchor="middle" font-weight="normal" font-style="normal" fill="#222"  stroke="#222" stroke-width="0.14">70</text>
<text transform="translate(527.40 539.50) rotate(0.05)" font-size="7.3" text-anchor="middle" font-weight="normal" font-style="normal" fill="#222"  stroke="#222" stroke-width="0.14">70</text>
<text transform="translate(527.40 553.80) rotate(0.05)" font-size="7.3" text-anchor="middle" font-weight="normal" font-style="normal" fill="#222"  stroke="#222" stroke-width="0.14">46</text>
<text transform="translate(589.00 539.50) rotate(0.05)" font-size="7.3" text-anchor="middle" font-weight="normal" font-style="normal" fill="#222"  stroke="#222" stroke-width="0.14">58</text>
<text transform="translate(589.00 553.80) rotate(0.05)" font-size="7.3" text-anchor="middle" font-weight="normal" font-style="normal" fill="#222"  stroke="#222" stroke-width="0.14">39</text>
<text transform="translate(650.00 539.50) rotate(0.05)" font-size="7.3" text-anchor="middle" font-weight="normal" font-style="normal" fill="#222"  stroke="#222" stroke-width="0.14">4</text>
<text transform="translate(650.00 553.80) rotate(0.05)" font-size="7.3" text-anchor="middle" font-weight="normal" font-style="normal" fill="#222"  stroke="#222" stroke-width="0.14">0</text>
<line x1="402.60" y1="560.4" x2="402.60" y2="562.2" stroke="#333" stroke-width="0.6"/>
<text transform="translate(402.60 568.70) rotate(0.05)" font-size="7.0" text-anchor="middle" font-weight="normal" font-style="normal" fill="#222"  stroke="#222" stroke-width="0.14">0</text>
<line x1="464.40" y1="560.4" x2="464.40" y2="562.2" stroke="#333" stroke-width="0.6"/>
<text transform="translate(464.40 568.70) rotate(0.05)" font-size="7.0" text-anchor="middle" font-weight="normal" font-style="normal" fill="#222"  stroke="#222" stroke-width="0.14">500</text>
<line x1="526.20" y1="560.4" x2="526.20" y2="562.2" stroke="#333" stroke-width="0.6"/>
<text transform="translate(526.20 568.70) rotate(0.05)" font-size="7.0" text-anchor="middle" font-weight="normal" font-style="normal" fill="#222"  stroke="#222" stroke-width="0.14">1000</text>
<line x1="588.00" y1="560.4" x2="588.00" y2="562.2" stroke="#333" stroke-width="0.6"/>
<text transform="translate(588.00 568.70) rotate(0.05)" font-size="7.0" text-anchor="middle" font-weight="normal" font-style="normal" fill="#222"  stroke="#222" stroke-width="0.14">1500</text>
<line x1="649.80" y1="560.4" x2="649.80" y2="562.2" stroke="#333" stroke-width="0.6"/>
<text transform="translate(649.80 568.70) rotate(0.05)" font-size="7.0" text-anchor="middle" font-weight="normal" font-style="normal" fill="#222"  stroke="#222" stroke-width="0.14">2000</text>
<text transform="translate(527.40 583.90) rotate(0.05)" font-size="7.55" text-anchor="middle" font-weight="normal" font-style="normal" fill="#111"  stroke="#111" stroke-width="0.14">Time(days)</text>
</svg>
</body></html>
